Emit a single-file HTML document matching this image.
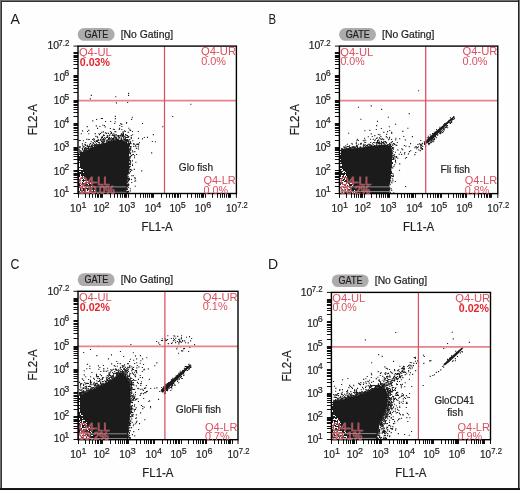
<!DOCTYPE html><html><head><meta charset="utf-8"><style>html,body{margin:0;padding:0;background:#fff;width:520px;height:490px;overflow:hidden}svg{display:block;will-change:transform}text{font-family:"Liberation Sans",sans-serif}text.k{stroke:#1e1e1e;stroke-width:0.2px}</style></head><body>
<svg width="520" height="490" viewBox="0 0 520 490">
<rect x="0" y="0" width="520" height="490" fill="#fefefe"/>
<path d="M78.0 153.4L82.9 152.3L87.5 149.4L93.3 147.1L99.1 144.8L104.8 143.0L110.6 141.0L116.4 140.0L122.1 140.0L126.7 142.5L129.0 146.0L129.1 157.1L128.6 168.6L126.9 180.0L126.3 188.0L126.3 193.5L78.0 193.5Z" fill="#1b1b1b"/>
<path d="M79 54h1v1h-1zM79 58h1v1h-1zM79 62h1v1h-1zM79 64h1v1h-1zM79 66h1v1h-1zM79 73h1v1h-1zM79 81h1v1h-1zM79 82h1v1h-1zM79 84h1v1h-1zM79 85h1v1h-1zM79 87h1v1h-1zM79 95h1v1h-1zM79 96h1v1h-1zM79 99h1v1h-1zM79 103h1v1h-1zM79 105h1v1h-1zM79 107h1v1h-1zM79 109h1v1h-1zM79 110h1v1h-1zM79 116h1v1h-1zM79 122h1v1h-1zM79 123h1v1h-1zM79 125h1v1h-1zM79 129h1v1h-1zM79 132h1v1h-1zM79 133h1v1h-1zM79 136h1v1h-1zM79 138h1v1h-1zM79 140h1v1h-1zM79 141h1v1h-1zM79 150h1v1h-1zM79 151h1v1h-1zM79 153h1v1h-1zM79 155h1v1h-1zM79 161h1v1h-1zM79 163h1v1h-1zM79 164h1v1h-1zM79 165h1v1h-1zM79 166h1v1h-1zM79 168h2v1h-2zM79 169h4v1h-4zM79 171h2v1h-2zM83 172h1v1h-1zM80 174h1v1h-1zM80 175h1v1h-1zM80 176h2v1h-2zM83 176h1v1h-1zM79 177h2v1h-2zM83 177h1v1h-1zM79 178h1v1h-1zM83 178h1v1h-1zM80 179h3v1h-3zM84 179h1v1h-1zM81 180h1v1h-1zM86 180h1v1h-1zM80 181h3v1h-3zM84 181h2v1h-2zM87 181h1v1h-1zM79 182h3v1h-3zM83 182h2v1h-2zM88 182h2v1h-2zM80 183h2v1h-2zM87 183h1v1h-1zM90 183h1v1h-1zM80 184h1v1h-1zM88 184h1v1h-1zM81 185h1v1h-1zM83 185h1v1h-1zM80 186h1v1h-1zM83 186h2v1h-2zM87 186h2v1h-2zM91 186h1v1h-1zM81 187h1v1h-1zM83 187h2v1h-2zM87 187h1v1h-1zM79 188h1v1h-1zM81 188h1v1h-1zM79 189h1v1h-1zM81 189h2v1h-2zM86 189h1v1h-1zM91 189h1v1h-1zM79 190h1v1h-1zM86 190h1v1h-1zM88 190h2v1h-2zM91 190h2v1h-2zM94 190h1v1h-1zM80 191h1v1h-1zM83 191h1v1h-1zM86 191h3v1h-3zM81 192h1v1h-1zM88 192h1v1h-1zM90 192h1v1h-1zM95 192h1v1h-1z" fill="#f4f4f4" shape-rendering="crispEdges"/>
<path d="M79.0 186.9H126.3M79.0 192.3H126.3" stroke="#9a9a9a" stroke-width="0.9"/>
<path d="M78.7 140.0h1.1v1.1h-1.1zM79.0 146.3h1.1v1.1h-1.1zM79.3 147.2h1.1v1.1h-1.1zM78.9 149.3h1.1v1.1h-1.1zM79.3 151.0h1.1v1.1h-1.1zM79.1 152.3h1.1v1.1h-1.1zM79.7 140.0h1.1v1.1h-1.1zM79.7 146.3h1.1v1.1h-1.1zM79.8 150.3h1.1v1.1h-1.1zM79.8 151.9h1.1v1.1h-1.1zM80.8 133.2h1.1v1.1h-1.1zM80.8 150.7h1.1v1.1h-1.1zM80.9 152.0h1.1v1.1h-1.1zM82.0 130.3h1.1v1.1h-1.1zM81.9 143.3h1.1v1.1h-1.1zM82.1 145.2h1.1v1.1h-1.1zM81.8 147.8h1.1v1.1h-1.1zM82.0 149.0h1.1v1.1h-1.1zM82.0 152.2h1.1v1.1h-1.1zM82.9 140.2h1.1v1.1h-1.1zM82.8 146.3h1.1v1.1h-1.1zM82.7 149.9h1.1v1.1h-1.1zM82.8 150.8h1.1v1.1h-1.1zM84.2 143.7h1.1v1.1h-1.1zM83.7 145.7h1.1v1.1h-1.1zM83.7 147.7h1.1v1.1h-1.1zM83.9 148.8h1.1v1.1h-1.1zM84.0 150.0h1.1v1.1h-1.1zM84.1 151.3h1.1v1.1h-1.1zM85.2 141.9h1.1v1.1h-1.1zM84.8 143.9h1.1v1.1h-1.1zM85.1 145.0h1.1v1.1h-1.1zM84.9 146.9h1.1v1.1h-1.1zM84.7 148.1h1.1v1.1h-1.1zM85.2 149.3h1.1v1.1h-1.1zM85.1 149.8h1.1v1.1h-1.1zM86.3 138.8h1.1v1.1h-1.1zM86.3 147.2h1.1v1.1h-1.1zM86.0 148.3h1.1v1.1h-1.1zM85.9 149.0h1.1v1.1h-1.1zM86.7 126.1h1.1v1.1h-1.1zM87.0 131.0h1.1v1.1h-1.1zM86.8 144.8h1.1v1.1h-1.1zM86.8 145.8h1.1v1.1h-1.1zM86.7 148.0h1.1v1.1h-1.1zM88.3 129.8h1.1v1.1h-1.1zM88.3 133.2h1.1v1.1h-1.1zM88.2 139.0h1.1v1.1h-1.1zM87.9 145.9h1.1v1.1h-1.1zM88.0 147.1h1.1v1.1h-1.1zM87.7 148.0h1.1v1.1h-1.1zM88.7 139.0h1.1v1.1h-1.1zM89.2 143.8h1.1v1.1h-1.1zM88.8 145.2h1.1v1.1h-1.1zM88.8 146.0h1.1v1.1h-1.1zM88.8 148.2h1.1v1.1h-1.1zM89.8 98.3h1.1v1.1h-1.1zM90.0 142.9h1.1v1.1h-1.1zM89.7 146.3h1.1v1.1h-1.1zM89.8 146.7h1.1v1.1h-1.1zM90.2 147.9h1.1v1.1h-1.1zM90.8 94.8h1.1v1.1h-1.1zM90.7 141.2h1.1v1.1h-1.1zM90.9 145.0h1.1v1.1h-1.1zM90.8 145.9h1.1v1.1h-1.1zM90.9 146.7h1.1v1.1h-1.1zM92.2 120.3h1.1v1.1h-1.1zM92.0 138.9h1.1v1.1h-1.1zM92.3 142.3h1.1v1.1h-1.1zM91.7 144.0h1.1v1.1h-1.1zM91.9 145.3h1.1v1.1h-1.1zM92.0 146.1h1.1v1.1h-1.1zM92.2 147.1h1.1v1.1h-1.1zM93.3 138.0h1.1v1.1h-1.1zM93.1 139.7h1.1v1.1h-1.1zM92.9 142.3h1.1v1.1h-1.1zM93.2 143.0h1.1v1.1h-1.1zM92.9 144.7h1.1v1.1h-1.1zM93.7 139.1h1.1v1.1h-1.1zM94.0 140.9h1.1v1.1h-1.1zM94.1 143.9h1.1v1.1h-1.1zM93.9 145.1h1.1v1.1h-1.1zM94.1 146.1h1.1v1.1h-1.1zM94.7 133.1h1.1v1.1h-1.1zM95.3 135.8h1.1v1.1h-1.1zM95.0 141.7h1.1v1.1h-1.1zM94.7 144.3h1.1v1.1h-1.1zM94.9 145.0h1.1v1.1h-1.1zM96.0 119.0h1.1v1.1h-1.1zM95.8 125.3h1.1v1.1h-1.1zM95.8 140.1h1.1v1.1h-1.1zM96.0 140.9h1.1v1.1h-1.1zM95.9 143.3h1.1v1.1h-1.1zM95.7 144.0h1.1v1.1h-1.1zM95.7 144.8h1.1v1.1h-1.1zM97.0 127.8h1.1v1.1h-1.1zM96.8 136.2h1.1v1.1h-1.1zM97.1 137.1h1.1v1.1h-1.1zM97.1 139.9h1.1v1.1h-1.1zM97.0 141.0h1.1v1.1h-1.1zM97.2 144.1h1.1v1.1h-1.1zM96.8 145.2h1.1v1.1h-1.1zM98.3 133.2h1.1v1.1h-1.1zM97.7 138.9h1.1v1.1h-1.1zM98.3 140.0h1.1v1.1h-1.1zM97.7 141.9h1.1v1.1h-1.1zM98.1 143.8h1.1v1.1h-1.1zM99.3 125.9h1.1v1.1h-1.1zM99.0 134.1h1.1v1.1h-1.1zM98.7 142.0h1.1v1.1h-1.1zM99.1 142.7h1.1v1.1h-1.1zM98.9 144.2h1.1v1.1h-1.1zM100.0 133.0h1.1v1.1h-1.1zM99.9 138.9h1.1v1.1h-1.1zM100.3 139.8h1.1v1.1h-1.1zM100.0 144.0h1.1v1.1h-1.1zM100.8 117.9h1.1v1.1h-1.1zM101.3 131.8h1.1v1.1h-1.1zM101.0 137.0h1.1v1.1h-1.1zM100.8 138.3h1.1v1.1h-1.1zM100.9 141.0h1.1v1.1h-1.1zM101.2 142.8h1.1v1.1h-1.1zM101.9 117.9h1.1v1.1h-1.1zM102.3 124.7h1.1v1.1h-1.1zM101.7 136.1h1.1v1.1h-1.1zM101.9 137.1h1.1v1.1h-1.1zM102.1 138.9h1.1v1.1h-1.1zM101.7 140.3h1.1v1.1h-1.1zM101.7 141.3h1.1v1.1h-1.1zM101.9 142.3h1.1v1.1h-1.1zM102.3 142.7h1.1v1.1h-1.1zM102.9 131.3h1.1v1.1h-1.1zM103.1 134.3h1.1v1.1h-1.1zM102.8 135.2h1.1v1.1h-1.1zM103.1 137.9h1.1v1.1h-1.1zM103.0 138.8h1.1v1.1h-1.1zM103.3 139.7h1.1v1.1h-1.1zM103.2 140.8h1.1v1.1h-1.1zM102.8 141.8h1.1v1.1h-1.1zM103.3 142.8h1.1v1.1h-1.1zM103.9 125.0h1.1v1.1h-1.1zM103.8 135.0h1.1v1.1h-1.1zM104.2 136.9h1.1v1.1h-1.1zM104.3 138.9h1.1v1.1h-1.1zM103.7 139.9h1.1v1.1h-1.1zM104.0 141.1h1.1v1.1h-1.1zM105.0 120.9h1.1v1.1h-1.1zM104.7 126.3h1.1v1.1h-1.1zM104.9 132.3h1.1v1.1h-1.1zM104.7 137.9h1.1v1.1h-1.1zM106.0 132.8h1.1v1.1h-1.1zM106.1 136.8h1.1v1.1h-1.1zM105.8 139.8h1.1v1.1h-1.1zM106.2 140.9h1.1v1.1h-1.1zM105.9 142.3h1.1v1.1h-1.1zM106.8 135.1h1.1v1.1h-1.1zM107.2 136.2h1.1v1.1h-1.1zM107.3 136.8h1.1v1.1h-1.1zM107.3 139.3h1.1v1.1h-1.1zM107.1 140.0h1.1v1.1h-1.1zM107.2 141.3h1.1v1.1h-1.1zM107.9 132.8h1.1v1.1h-1.1zM108.0 138.0h1.1v1.1h-1.1zM107.9 138.8h1.1v1.1h-1.1zM108.2 141.0h1.1v1.1h-1.1zM109.3 134.3h1.1v1.1h-1.1zM108.7 134.9h1.1v1.1h-1.1zM108.9 136.7h1.1v1.1h-1.1zM109.1 137.8h1.1v1.1h-1.1zM109.0 138.7h1.1v1.1h-1.1zM108.7 140.1h1.1v1.1h-1.1zM109.0 141.0h1.1v1.1h-1.1zM110.1 121.0h1.1v1.1h-1.1zM109.8 127.9h1.1v1.1h-1.1zM110.1 130.9h1.1v1.1h-1.1zM110.2 132.7h1.1v1.1h-1.1zM109.9 138.3h1.1v1.1h-1.1zM110.3 139.7h1.1v1.1h-1.1zM111.0 131.9h1.1v1.1h-1.1zM110.8 133.0h1.1v1.1h-1.1zM110.9 137.3h1.1v1.1h-1.1zM110.9 139.2h1.1v1.1h-1.1zM110.9 140.0h1.1v1.1h-1.1zM112.2 133.8h1.1v1.1h-1.1zM111.7 135.0h1.1v1.1h-1.1zM111.8 138.1h1.1v1.1h-1.1zM112.0 138.8h1.1v1.1h-1.1zM112.2 140.3h1.1v1.1h-1.1zM112.8 128.7h1.1v1.1h-1.1zM113.3 133.2h1.1v1.1h-1.1zM112.9 135.0h1.1v1.1h-1.1zM113.0 137.3h1.1v1.1h-1.1zM112.9 138.3h1.1v1.1h-1.1zM113.0 139.0h1.1v1.1h-1.1zM112.9 140.1h1.1v1.1h-1.1zM114.1 122.9h1.1v1.1h-1.1zM113.9 129.0h1.1v1.1h-1.1zM114.3 131.2h1.1v1.1h-1.1zM114.3 134.2h1.1v1.1h-1.1zM113.9 135.3h1.1v1.1h-1.1zM113.8 135.8h1.1v1.1h-1.1zM113.9 137.3h1.1v1.1h-1.1zM114.3 138.7h1.1v1.1h-1.1zM113.9 140.1h1.1v1.1h-1.1zM115.2 96.2h1.1v1.1h-1.1zM114.8 115.8h1.1v1.1h-1.1zM114.8 118.1h1.1v1.1h-1.1zM114.7 121.2h1.1v1.1h-1.1zM115.2 131.1h1.1v1.1h-1.1zM115.3 134.7h1.1v1.1h-1.1zM114.7 136.3h1.1v1.1h-1.1zM114.8 136.9h1.1v1.1h-1.1zM115.3 138.1h1.1v1.1h-1.1zM115.2 139.0h1.1v1.1h-1.1zM115.9 102.3h1.1v1.1h-1.1zM115.9 134.2h1.1v1.1h-1.1zM116.1 136.8h1.1v1.1h-1.1zM116.1 138.1h1.1v1.1h-1.1zM116.2 139.1h1.1v1.1h-1.1zM116.8 135.3h1.1v1.1h-1.1zM117.1 138.8h1.1v1.1h-1.1zM118.0 135.1h1.1v1.1h-1.1zM118.0 135.8h1.1v1.1h-1.1zM118.3 136.9h1.1v1.1h-1.1zM118.3 138.3h1.1v1.1h-1.1zM117.7 138.9h1.1v1.1h-1.1zM119.2 125.0h1.1v1.1h-1.1zM119.1 127.7h1.1v1.1h-1.1zM118.7 128.8h1.1v1.1h-1.1zM118.7 135.3h1.1v1.1h-1.1zM119.0 137.1h1.1v1.1h-1.1zM120.2 123.1h1.1v1.1h-1.1zM119.9 134.7h1.1v1.1h-1.1zM120.2 135.7h1.1v1.1h-1.1zM120.3 138.7h1.1v1.1h-1.1zM121.2 123.8h1.1v1.1h-1.1zM121.3 125.9h1.1v1.1h-1.1zM121.3 128.9h1.1v1.1h-1.1zM121.2 133.1h1.1v1.1h-1.1zM120.9 133.9h1.1v1.1h-1.1zM121.3 135.1h1.1v1.1h-1.1zM120.8 137.2h1.1v1.1h-1.1zM120.9 138.3h1.1v1.1h-1.1zM121.2 139.2h1.1v1.1h-1.1zM122.2 131.7h1.1v1.1h-1.1zM122.0 134.2h1.1v1.1h-1.1zM121.9 135.1h1.1v1.1h-1.1zM121.8 135.8h1.1v1.1h-1.1zM121.9 139.7h1.1v1.1h-1.1zM122.7 131.2h1.1v1.1h-1.1zM122.9 132.8h1.1v1.1h-1.1zM122.9 133.7h1.1v1.1h-1.1zM122.9 134.8h1.1v1.1h-1.1zM123.2 136.1h1.1v1.1h-1.1zM122.8 137.3h1.1v1.1h-1.1zM123.0 138.7h1.1v1.1h-1.1zM123.2 140.2h1.1v1.1h-1.1zM124.0 130.3h1.1v1.1h-1.1zM124.1 135.7h1.1v1.1h-1.1zM124.3 137.7h1.1v1.1h-1.1zM124.0 139.0h1.1v1.1h-1.1zM124.2 140.2h1.1v1.1h-1.1zM124.2 140.9h1.1v1.1h-1.1zM124.8 131.0h1.1v1.1h-1.1zM125.0 134.1h1.1v1.1h-1.1zM124.7 135.7h1.1v1.1h-1.1zM124.8 137.0h1.1v1.1h-1.1zM124.9 138.2h1.1v1.1h-1.1zM124.9 139.1h1.1v1.1h-1.1zM125.2 139.9h1.1v1.1h-1.1zM124.7 140.7h1.1v1.1h-1.1zM126.1 121.9h1.1v1.1h-1.1zM125.9 122.7h1.1v1.1h-1.1zM125.9 134.7h1.1v1.1h-1.1zM126.0 136.9h1.1v1.1h-1.1zM126.1 139.1h1.1v1.1h-1.1zM126.2 139.7h1.1v1.1h-1.1zM126.0 140.7h1.1v1.1h-1.1zM125.9 141.8h1.1v1.1h-1.1zM125.9 180.8h1.1v1.1h-1.1zM126.3 181.9h1.1v1.1h-1.1zM125.9 183.2h1.1v1.1h-1.1zM125.9 184.1h1.1v1.1h-1.1zM126.0 185.3h1.1v1.1h-1.1zM126.3 186.3h1.1v1.1h-1.1zM125.7 187.2h1.1v1.1h-1.1zM125.7 187.9h1.1v1.1h-1.1zM125.7 188.9h1.1v1.1h-1.1zM126.1 190.8h1.1v1.1h-1.1zM126.3 191.8h1.1v1.1h-1.1zM127.1 101.9h1.1v1.1h-1.1zM127.0 135.0h1.1v1.1h-1.1zM127.2 136.3h1.1v1.1h-1.1zM127.2 136.8h1.1v1.1h-1.1zM127.1 139.0h1.1v1.1h-1.1zM127.1 139.9h1.1v1.1h-1.1zM127.2 140.8h1.1v1.1h-1.1zM127.1 143.3h1.1v1.1h-1.1zM126.9 144.1h1.1v1.1h-1.1zM126.8 172.9h1.1v1.1h-1.1zM126.8 174.1h1.1v1.1h-1.1zM127.2 176.3h1.1v1.1h-1.1zM126.7 177.3h1.1v1.1h-1.1zM127.3 177.9h1.1v1.1h-1.1zM126.7 178.8h1.1v1.1h-1.1zM127.2 179.8h1.1v1.1h-1.1zM126.9 181.2h1.1v1.1h-1.1zM126.8 182.2h1.1v1.1h-1.1zM127.1 184.1h1.1v1.1h-1.1zM127.1 184.8h1.1v1.1h-1.1zM126.8 186.0h1.1v1.1h-1.1zM126.8 188.2h1.1v1.1h-1.1zM126.9 188.9h1.1v1.1h-1.1zM126.9 190.9h1.1v1.1h-1.1zM126.8 191.8h1.1v1.1h-1.1zM128.1 92.8h1.1v1.1h-1.1zM128.0 94.8h1.1v1.1h-1.1zM128.2 127.7h1.1v1.1h-1.1zM127.7 131.8h1.1v1.1h-1.1zM128.2 135.9h1.1v1.1h-1.1zM128.0 136.7h1.1v1.1h-1.1zM128.2 139.7h1.1v1.1h-1.1zM127.8 141.0h1.1v1.1h-1.1zM127.8 142.1h1.1v1.1h-1.1zM128.1 143.0h1.1v1.1h-1.1zM127.8 144.1h1.1v1.1h-1.1zM128.1 145.3h1.1v1.1h-1.1zM127.7 158.8h1.1v1.1h-1.1zM127.9 160.1h1.1v1.1h-1.1zM128.0 161.3h1.1v1.1h-1.1zM127.9 161.9h1.1v1.1h-1.1zM128.1 162.7h1.1v1.1h-1.1zM127.9 164.0h1.1v1.1h-1.1zM128.0 165.1h1.1v1.1h-1.1zM128.0 166.0h1.1v1.1h-1.1zM128.0 166.9h1.1v1.1h-1.1zM128.1 167.8h1.1v1.1h-1.1zM127.8 168.8h1.1v1.1h-1.1zM128.3 169.8h1.1v1.1h-1.1zM127.9 170.9h1.1v1.1h-1.1zM128.0 171.8h1.1v1.1h-1.1zM128.0 173.3h1.1v1.1h-1.1zM127.7 175.8h1.1v1.1h-1.1zM128.0 177.8h1.1v1.1h-1.1zM128.1 178.8h1.1v1.1h-1.1zM128.2 179.8h1.1v1.1h-1.1zM127.7 180.7h1.1v1.1h-1.1zM127.7 182.7h1.1v1.1h-1.1zM128.2 184.1h1.1v1.1h-1.1zM128.1 185.1h1.1v1.1h-1.1zM127.8 187.0h1.1v1.1h-1.1zM128.0 190.8h1.1v1.1h-1.1zM128.2 192.3h1.1v1.1h-1.1zM129.3 129.3h1.1v1.1h-1.1zM129.3 139.1h1.1v1.1h-1.1zM129.3 141.2h1.1v1.1h-1.1zM129.2 143.1h1.1v1.1h-1.1zM128.9 143.7h1.1v1.1h-1.1zM128.9 144.8h1.1v1.1h-1.1zM128.9 145.7h1.1v1.1h-1.1zM129.2 147.7h1.1v1.1h-1.1zM128.9 149.0h1.1v1.1h-1.1zM129.3 149.8h1.1v1.1h-1.1zM128.9 151.1h1.1v1.1h-1.1zM128.7 151.9h1.1v1.1h-1.1zM129.3 152.8h1.1v1.1h-1.1zM129.1 156.3h1.1v1.1h-1.1zM129.1 156.9h1.1v1.1h-1.1zM129.2 158.1h1.1v1.1h-1.1zM128.8 159.3h1.1v1.1h-1.1zM128.7 160.2h1.1v1.1h-1.1zM128.9 162.8h1.1v1.1h-1.1zM128.7 163.8h1.1v1.1h-1.1zM128.9 166.0h1.1v1.1h-1.1zM129.0 167.1h1.1v1.1h-1.1zM129.3 168.8h1.1v1.1h-1.1zM129.3 171.7h1.1v1.1h-1.1zM128.7 172.9h1.1v1.1h-1.1zM128.8 177.8h1.1v1.1h-1.1zM128.9 178.8h1.1v1.1h-1.1zM130.0 129.8h1.1v1.1h-1.1zM130.0 141.3h1.1v1.1h-1.1zM129.9 142.1h1.1v1.1h-1.1zM129.9 143.0h1.1v1.1h-1.1zM130.0 146.0h1.1v1.1h-1.1zM130.0 147.2h1.1v1.1h-1.1zM130.1 147.8h1.1v1.1h-1.1zM130.2 149.0h1.1v1.1h-1.1zM129.8 150.2h1.1v1.1h-1.1zM130.1 152.3h1.1v1.1h-1.1zM129.9 153.3h1.1v1.1h-1.1zM129.9 155.8h1.1v1.1h-1.1zM129.7 157.2h1.1v1.1h-1.1zM129.8 160.0h1.1v1.1h-1.1zM129.8 160.8h1.1v1.1h-1.1zM130.1 161.7h1.1v1.1h-1.1zM129.7 162.8h1.1v1.1h-1.1zM129.8 163.9h1.1v1.1h-1.1zM129.9 165.7h1.1v1.1h-1.1zM130.3 169.0h1.1v1.1h-1.1zM129.9 170.8h1.1v1.1h-1.1zM129.7 188.2h1.1v1.1h-1.1zM129.8 190.3h1.1v1.1h-1.1zM131.1 118.8h1.1v1.1h-1.1zM130.7 135.1h1.1v1.1h-1.1zM130.8 137.0h1.1v1.1h-1.1zM130.7 138.0h1.1v1.1h-1.1zM130.7 143.2h1.1v1.1h-1.1zM130.7 146.2h1.1v1.1h-1.1zM131.0 155.1h1.1v1.1h-1.1zM131.2 169.8h1.1v1.1h-1.1zM131.2 175.2h1.1v1.1h-1.1zM130.9 179.0h1.1v1.1h-1.1zM131.2 182.0h1.1v1.1h-1.1zM131.8 116.7h1.1v1.1h-1.1zM131.9 131.0h1.1v1.1h-1.1zM132.1 134.2h1.1v1.1h-1.1zM132.2 140.2h1.1v1.1h-1.1zM131.8 150.2h1.1v1.1h-1.1zM132.3 151.3h1.1v1.1h-1.1zM132.0 154.2h1.1v1.1h-1.1zM131.9 160.3h1.1v1.1h-1.1zM132.0 163.7h1.1v1.1h-1.1zM132.0 165.0h1.1v1.1h-1.1zM133.2 142.9h1.1v1.1h-1.1zM133.1 143.7h1.1v1.1h-1.1zM133.2 145.8h1.1v1.1h-1.1zM132.9 153.9h1.1v1.1h-1.1zM132.7 175.1h1.1v1.1h-1.1zM133.8 143.7h1.1v1.1h-1.1zM134.3 151.1h1.1v1.1h-1.1zM134.0 155.3h1.1v1.1h-1.1zM134.0 157.2h1.1v1.1h-1.1zM133.8 168.8h1.1v1.1h-1.1zM134.3 177.1h1.1v1.1h-1.1zM134.2 180.7h1.1v1.1h-1.1zM135.0 144.7h1.1v1.1h-1.1zM135.3 146.0h1.1v1.1h-1.1zM135.3 161.7h1.1v1.1h-1.1zM134.7 178.1h1.1v1.1h-1.1zM135.1 180.2h1.1v1.1h-1.1zM134.7 185.7h1.1v1.1h-1.1zM136.0 143.7h1.1v1.1h-1.1zM135.8 147.8h1.1v1.1h-1.1zM136.0 153.9h1.1v1.1h-1.1zM137.0 143.8h1.1v1.1h-1.1zM137.7 131.0h1.1v1.1h-1.1zM137.9 137.8h1.1v1.1h-1.1zM137.7 143.3h1.1v1.1h-1.1zM138.1 144.3h1.1v1.1h-1.1zM137.8 146.3h1.1v1.1h-1.1zM137.7 148.3h1.1v1.1h-1.1zM139.0 142.2h1.1v1.1h-1.1zM141.2 170.3h1.1v1.1h-1.1zM142.0 123.0h1.1v1.1h-1.1zM141.9 138.3h1.1v1.1h-1.1zM143.8 136.9h1.1v1.1h-1.1zM146.9 136.8h1.1v1.1h-1.1zM151.1 152.3h1.1v1.1h-1.1zM151.8 141.0h1.1v1.1h-1.1zM152.8 134.1h1.1v1.1h-1.1zM154.8 141.2h1.1v1.1h-1.1zM162.2 126.2h1.1v1.1h-1.1zM172.2 115.9h1.1v1.1h-1.1zM190.3 103.7h1.1v1.1h-1.1z" fill="#1b1b1b"/>
<path d="M78.00 100.60H236.40" stroke="#e3848e" stroke-width="1.7" fill="none"/>
<path d="M164.50 46.10V193.50" stroke="#d9505f" stroke-width="1.25" fill="none"/>
<path d="M73.50 193.50H78.00M78.50 193.50V197.80M73.50 186.50H78.00M85.50 193.50V197.80M73.50 182.50H78.00M89.50 193.50V197.80M73.50 179.50H78.00M92.50 193.50V197.80M73.50 177.50H78.00M95.50 193.50V197.80M73.50 175.50H78.00M97.50 193.50V197.80M73.50 174.50H78.00M98.50 193.50V197.80M73.50 173.50H78.00M100.50 193.50V197.80M73.50 171.50H78.00M101.50 193.50V197.80M73.50 170.50H78.00M102.50 193.50V197.80M73.50 163.50H78.00M110.50 193.50V197.80M73.50 159.50H78.00M114.50 193.50V197.80M73.50 156.50H78.00M117.50 193.50V197.80M73.50 154.50H78.00M120.50 193.50V197.80M73.50 152.50H78.00M122.50 193.50V197.80M73.50 150.50H78.00M124.50 193.50V197.80M73.50 149.50H78.00M125.50 193.50V197.80M73.50 148.50H78.00M126.50 193.50V197.80M73.50 147.50H78.00M128.50 193.50V197.80M73.50 139.50H78.00M135.50 193.50V197.80M73.50 135.50H78.00M140.50 193.50V197.80M73.50 132.50H78.00M143.50 193.50V197.80M73.50 130.50H78.00M145.50 193.50V197.80M73.50 128.50H78.00M147.50 193.50V197.80M73.50 127.50H78.00M149.50 193.50V197.80M73.50 125.50H78.00M151.50 193.50V197.80M73.50 124.50H78.00M152.50 193.50V197.80M73.50 123.50H78.00M153.50 193.50V197.80M73.50 116.50H78.00M161.50 193.50V197.80M73.50 112.50H78.00M166.50 193.50V197.80M73.50 109.50H78.00M169.50 193.50V197.80M73.50 107.50H78.00M172.50 193.50V197.80M73.50 105.50H78.00M174.50 193.50V197.80M73.50 104.50H78.00M175.50 193.50V197.80M73.50 102.50H78.00M177.50 193.50V197.80M73.50 101.50H78.00M178.50 193.50V197.80M73.50 100.50H78.00M180.50 193.50V197.80M73.50 92.50H78.00M187.50 193.50V197.80M73.50 88.50H78.00M191.50 193.50V197.80M73.50 85.50H78.00M195.50 193.50V197.80M73.50 82.50H78.00M197.50 193.50V197.80M73.50 80.50H78.00M199.50 193.50V197.80M73.50 79.50H78.00M201.50 193.50V197.80M73.50 77.50H78.00M202.50 193.50V197.80M73.50 76.50H78.00M203.50 193.50V197.80M73.50 75.50H78.00M205.50 193.50V197.80M73.50 68.50H78.00M212.50 193.50V197.80M73.50 64.50H78.00M217.50 193.50V197.80M73.50 61.50H78.00M220.50 193.50V197.80M73.50 59.50H78.00M222.50 193.50V197.80M73.50 57.50H78.00M224.50 193.50V197.80M73.50 56.50H78.00M226.50 193.50V197.80M73.50 55.50H78.00M228.50 193.50V197.80M73.50 53.50H78.00M229.50 193.50V197.80M73.50 52.50H78.00M230.50 193.50V197.80M73.50 46.10H78.00M236.40 193.50V197.80" stroke="#111" stroke-width="1" fill="none"/>
<rect x="78.00" y="46.10" width="158.40" height="147.40" fill="none" stroke="#000" stroke-width="1.4"/>
<text x="10.40" y="23.80" font-size="15.4" fill="#1a1a1b" textLength="9.40" lengthAdjust="spacingAndGlyphs">A</text>
<rect x="77.70" y="28.10" width="36.9" height="12.7" rx="6.35" fill="#adabab"/>
<text x="84.40" y="38.10" font-size="10.4" fill="#1e1e1e" textLength="24.00" lengthAdjust="spacingAndGlyphs" class="k">GATE</text>
<text x="120.65" y="37.90" font-size="10.2" fill="#1e1e1e" textLength="52.40" lengthAdjust="spacingAndGlyphs" class="k">[No Gating]</text>
<text x="65.00" y="196.90" font-size="10.6" fill="#1e1e1e" text-anchor="end" textLength="11.20" lengthAdjust="spacingAndGlyphs" class="k">10</text>
<text x="64.30" y="192.40" font-size="9.8" fill="#1e1e1e" textLength="5.00" lengthAdjust="spacingAndGlyphs" class="k">1</text>
<text x="65.00" y="174.90" font-size="10.6" fill="#1e1e1e" text-anchor="end" textLength="11.20" lengthAdjust="spacingAndGlyphs" class="k">10</text>
<text x="64.30" y="170.40" font-size="9.8" fill="#1e1e1e" textLength="5.00" lengthAdjust="spacingAndGlyphs" class="k">2</text>
<text x="65.00" y="151.00" font-size="10.6" fill="#1e1e1e" text-anchor="end" textLength="11.20" lengthAdjust="spacingAndGlyphs" class="k">10</text>
<text x="64.30" y="146.50" font-size="9.8" fill="#1e1e1e" textLength="5.00" lengthAdjust="spacingAndGlyphs" class="k">3</text>
<text x="65.00" y="127.50" font-size="10.6" fill="#1e1e1e" text-anchor="end" textLength="11.20" lengthAdjust="spacingAndGlyphs" class="k">10</text>
<text x="64.30" y="123.00" font-size="9.8" fill="#1e1e1e" textLength="5.00" lengthAdjust="spacingAndGlyphs" class="k">4</text>
<text x="65.00" y="104.30" font-size="10.6" fill="#1e1e1e" text-anchor="end" textLength="11.20" lengthAdjust="spacingAndGlyphs" class="k">10</text>
<text x="64.30" y="99.80" font-size="9.8" fill="#1e1e1e" textLength="5.00" lengthAdjust="spacingAndGlyphs" class="k">5</text>
<text x="65.00" y="80.50" font-size="10.6" fill="#1e1e1e" text-anchor="end" textLength="11.20" lengthAdjust="spacingAndGlyphs" class="k">10</text>
<text x="64.30" y="76.00" font-size="9.8" fill="#1e1e1e" textLength="5.00" lengthAdjust="spacingAndGlyphs" class="k">6</text>
<text x="59.00" y="49.40" font-size="10.6" fill="#1e1e1e" text-anchor="end" textLength="11.60" lengthAdjust="spacingAndGlyphs" class="k">10</text>
<text x="58.30" y="45.70" font-size="9.8" fill="#1e1e1e" textLength="11.00" lengthAdjust="spacingAndGlyphs" class="k">7.2</text>
<text x="81.50" y="211.80" font-size="10.6" fill="#1e1e1e" text-anchor="end" textLength="11.40" lengthAdjust="spacingAndGlyphs" class="k">10</text>
<text x="81.50" y="207.90" font-size="9.8" fill="#1e1e1e" textLength="5.00" lengthAdjust="spacingAndGlyphs" class="k">1</text>
<text x="104.60" y="211.80" font-size="10.6" fill="#1e1e1e" text-anchor="end" textLength="11.40" lengthAdjust="spacingAndGlyphs" class="k">10</text>
<text x="104.60" y="207.90" font-size="9.8" fill="#1e1e1e" textLength="5.00" lengthAdjust="spacingAndGlyphs" class="k">2</text>
<text x="130.20" y="211.80" font-size="10.6" fill="#1e1e1e" text-anchor="end" textLength="11.40" lengthAdjust="spacingAndGlyphs" class="k">10</text>
<text x="130.20" y="207.90" font-size="9.8" fill="#1e1e1e" textLength="5.00" lengthAdjust="spacingAndGlyphs" class="k">3</text>
<text x="156.20" y="211.80" font-size="10.6" fill="#1e1e1e" text-anchor="end" textLength="11.40" lengthAdjust="spacingAndGlyphs" class="k">10</text>
<text x="156.20" y="207.90" font-size="9.8" fill="#1e1e1e" textLength="5.00" lengthAdjust="spacingAndGlyphs" class="k">4</text>
<text x="180.80" y="211.80" font-size="10.6" fill="#1e1e1e" text-anchor="end" textLength="11.40" lengthAdjust="spacingAndGlyphs" class="k">10</text>
<text x="180.80" y="207.90" font-size="9.8" fill="#1e1e1e" textLength="5.00" lengthAdjust="spacingAndGlyphs" class="k">5</text>
<text x="206.20" y="211.80" font-size="10.6" fill="#1e1e1e" text-anchor="end" textLength="11.40" lengthAdjust="spacingAndGlyphs" class="k">10</text>
<text x="206.20" y="207.90" font-size="9.8" fill="#1e1e1e" textLength="5.00" lengthAdjust="spacingAndGlyphs" class="k">6</text>
<text x="237.10" y="211.80" font-size="10.6" fill="#1e1e1e" text-anchor="end" textLength="11.20" lengthAdjust="spacingAndGlyphs" class="k">10</text>
<text x="237.20" y="208.20" font-size="9.8" fill="#1e1e1e" textLength="10.60" lengthAdjust="spacingAndGlyphs" class="k">7.2</text>
<text x="0" y="0" font-size="13" fill="#1e1e1e" text-anchor="middle" textLength="31.2" lengthAdjust="spacingAndGlyphs" class="k" transform="translate(37.10,119.70) rotate(-90)">FL2-A</text>
<text x="157.10" y="230.80" font-size="13" fill="#1e1e1e" text-anchor="middle" textLength="31.20" lengthAdjust="spacingAndGlyphs" class="k">FL1-A</text>
<svg x="78.00" y="46.10" width="158.40" height="147.40" overflow="hidden">
<text x="0.90" y="9.40" font-size="11" fill="#d9505f" textLength="32.90" lengthAdjust="spacingAndGlyphs">Q4-UL</text>
<text x="1.80" y="20.10" font-size="10.9" fill="#e2262e" font-weight="bold" textLength="30.20" lengthAdjust="spacingAndGlyphs">0.03%</text>
<text x="158.10" y="9.30" font-size="11" fill="#d9505f" text-anchor="end" textLength="35.00" lengthAdjust="spacingAndGlyphs">Q4-UR</text>
<text x="123.20" y="19.00" font-size="10.2" fill="#d9505f" textLength="24.80" lengthAdjust="spacingAndGlyphs">0.0%</text>
<text x="125.40" y="138.30" font-size="11" fill="#d9505f" textLength="32.40" lengthAdjust="spacingAndGlyphs">Q4-LR</text>
<text x="125.40" y="147.60" font-size="10.2" fill="#d9505f" textLength="24.70" lengthAdjust="spacingAndGlyphs">0.0%</text>
<text x="0.70" y="138.60" font-size="11" fill="#e0404f" textLength="31.10" lengthAdjust="spacingAndGlyphs" stroke="#ffffff" stroke-opacity="0.3" stroke-width="1" paint-order="stroke">Q4-LL</text>
<text x="0.70" y="148.00" font-size="10.2" fill="#e0404f" textLength="36.00" lengthAdjust="spacingAndGlyphs" stroke="#ffffff" stroke-opacity="0.3" stroke-width="1" paint-order="stroke">100.0%</text>
</svg>
<text x="178.80" y="171.30" font-size="10.4" fill="#1e1e1e" textLength="34.20" lengthAdjust="spacingAndGlyphs" class="k">Glo fish</text>
<path d="M339.4 149.2L349.5 148.6L361.0 147.5L372.6 145.8L384.0 144.6L388.0 145.0L390.5 147.0L392.0 151.0L392.0 163.0L391.0 174.0L389.5 185.7L389.5 193.6L339.4 193.6Z" fill="#1b1b1b"/>
<path d="M427.09 143.55L431.62 140.12L439.60 132.08L447.44 123.91L453.94 117.06L453.46 116.54L446.21 122.59L437.55 129.90L429.03 137.34L425.31 141.65Z" fill="#1b1b1b"/>
<path d="M340 47h1v1h-1zM340 48h1v1h-1zM340 50h1v1h-1zM340 51h1v1h-1zM340 52h1v1h-1zM340 53h1v1h-1zM340 56h1v1h-1zM340 57h1v1h-1zM340 58h1v1h-1zM340 59h1v1h-1zM340 61h1v1h-1zM340 64h1v1h-1zM340 65h1v1h-1zM340 69h1v1h-1zM340 71h1v1h-1zM340 76h1v1h-1zM340 77h1v1h-1zM340 79h1v1h-1zM340 80h1v1h-1zM340 81h1v1h-1zM340 83h1v1h-1zM340 84h1v1h-1zM340 85h1v1h-1zM340 87h1v1h-1zM340 91h1v1h-1zM340 94h1v1h-1zM340 95h1v1h-1zM340 96h1v1h-1zM340 98h1v1h-1zM340 100h1v1h-1zM340 101h1v1h-1zM340 104h1v1h-1zM340 105h1v1h-1zM340 107h1v1h-1zM340 110h1v1h-1zM340 113h1v1h-1zM340 116h1v1h-1zM340 119h1v1h-1zM340 120h1v1h-1zM340 121h1v1h-1zM340 122h1v1h-1zM340 123h1v1h-1zM340 127h1v1h-1zM340 132h1v1h-1zM340 144h1v1h-1zM340 148h1v1h-1zM340 149h1v1h-1zM340 151h1v1h-1zM340 152h1v1h-1zM340 154h1v1h-1zM340 159h1v1h-1zM340 162h1v1h-1zM340 164h2v1h-2zM340 165h2v1h-2zM340 168h2v1h-2zM342 169h1v1h-1zM341 170h2v1h-2zM343 171h2v1h-2zM342 172h2v1h-2zM345 172h1v1h-1zM345 174h1v1h-1zM341 175h2v1h-2zM344 175h2v1h-2zM341 176h1v1h-1zM344 176h1v1h-1zM346 176h1v1h-1zM340 177h2v1h-2zM343 177h1v1h-1zM343 178h1v1h-1zM345 178h1v1h-1zM340 179h1v1h-1zM342 179h1v1h-1zM345 179h1v1h-1zM347 179h1v1h-1zM340 180h1v1h-1zM344 180h1v1h-1zM340 181h4v1h-4zM343 182h3v1h-3zM343 183h3v1h-3zM347 183h1v1h-1zM350 183h2v1h-2zM341 184h2v1h-2zM346 184h3v1h-3zM340 185h4v1h-4zM346 185h1v1h-1zM348 185h1v1h-1zM352 185h1v1h-1zM340 186h5v1h-5zM346 186h1v1h-1zM351 186h1v1h-1zM342 187h1v1h-1zM347 187h2v1h-2zM340 188h1v1h-1zM342 188h5v1h-5zM348 188h2v1h-2zM340 189h2v1h-2zM343 189h2v1h-2zM346 189h2v1h-2zM340 190h1v1h-1zM342 190h1v1h-1zM344 190h1v1h-1zM346 190h1v1h-1zM350 190h1v1h-1zM354 190h1v1h-1zM340 191h1v1h-1zM343 191h2v1h-2zM340 192h2v1h-2zM343 192h1v1h-1zM347 192h1v1h-1zM352 192h1v1h-1zM354 192h1v1h-1z" fill="#f4f4f4" shape-rendering="crispEdges"/>
<path d="M340.4 186.9H389.5M340.4 191.6H389.5" stroke="#9a9a9a" stroke-width="0.9"/>
<path d="M341.1 147.9h1.1v1.1h-1.1zM342.3 148.2h1.1v1.1h-1.1zM343.3 146.3h1.1v1.1h-1.1zM343.7 146.7h1.1v1.1h-1.1zM344.3 147.8h1.1v1.1h-1.1zM345.2 145.2h1.1v1.1h-1.1zM344.8 146.7h1.1v1.1h-1.1zM346.2 147.3h1.1v1.1h-1.1zM345.8 147.8h1.1v1.1h-1.1zM346.8 143.7h1.1v1.1h-1.1zM346.7 146.0h1.1v1.1h-1.1zM347.2 147.9h1.1v1.1h-1.1zM348.1 132.7h1.1v1.1h-1.1zM347.8 145.9h1.1v1.1h-1.1zM348.3 147.9h1.1v1.1h-1.1zM349.0 145.3h1.1v1.1h-1.1zM348.9 146.8h1.1v1.1h-1.1zM348.9 147.7h1.1v1.1h-1.1zM349.9 147.1h1.1v1.1h-1.1zM350.0 148.1h1.1v1.1h-1.1zM351.3 143.0h1.1v1.1h-1.1zM351.1 147.3h1.1v1.1h-1.1zM351.8 143.7h1.1v1.1h-1.1zM351.7 146.3h1.1v1.1h-1.1zM352.0 146.8h1.1v1.1h-1.1zM352.9 146.0h1.1v1.1h-1.1zM352.7 146.8h1.1v1.1h-1.1zM353.8 146.2h1.1v1.1h-1.1zM354.0 146.8h1.1v1.1h-1.1zM355.2 146.8h1.1v1.1h-1.1zM356.3 139.7h1.1v1.1h-1.1zM355.9 141.7h1.1v1.1h-1.1zM355.7 143.1h1.1v1.1h-1.1zM356.0 144.8h1.1v1.1h-1.1zM355.7 145.9h1.1v1.1h-1.1zM356.9 138.7h1.1v1.1h-1.1zM356.7 145.0h1.1v1.1h-1.1zM356.9 146.1h1.1v1.1h-1.1zM357.0 147.0h1.1v1.1h-1.1zM357.9 106.7h1.1v1.1h-1.1zM357.9 140.0h1.1v1.1h-1.1zM358.0 143.7h1.1v1.1h-1.1zM359.2 146.7h1.1v1.1h-1.1zM360.3 118.7h1.1v1.1h-1.1zM360.1 142.9h1.1v1.1h-1.1zM360.3 143.8h1.1v1.1h-1.1zM360.0 146.3h1.1v1.1h-1.1zM360.3 147.3h1.1v1.1h-1.1zM360.8 142.8h1.1v1.1h-1.1zM362.7 140.2h1.1v1.1h-1.1zM363.0 143.7h1.1v1.1h-1.1zM362.7 145.3h1.1v1.1h-1.1zM363.2 146.1h1.1v1.1h-1.1zM364.3 130.2h1.1v1.1h-1.1zM364.0 137.7h1.1v1.1h-1.1zM363.8 139.7h1.1v1.1h-1.1zM364.0 141.7h1.1v1.1h-1.1zM363.7 144.8h1.1v1.1h-1.1zM365.2 139.7h1.1v1.1h-1.1zM365.1 141.9h1.1v1.1h-1.1zM364.8 144.3h1.1v1.1h-1.1zM365.1 145.9h1.1v1.1h-1.1zM366.0 145.1h1.1v1.1h-1.1zM367.2 144.2h1.1v1.1h-1.1zM367.1 145.3h1.1v1.1h-1.1zM367.2 145.7h1.1v1.1h-1.1zM367.8 136.2h1.1v1.1h-1.1zM368.1 143.7h1.1v1.1h-1.1zM368.3 145.9h1.1v1.1h-1.1zM369.3 129.8h1.1v1.1h-1.1zM369.0 143.7h1.1v1.1h-1.1zM369.3 144.8h1.1v1.1h-1.1zM370.0 138.7h1.1v1.1h-1.1zM370.1 142.0h1.1v1.1h-1.1zM370.2 144.3h1.1v1.1h-1.1zM370.1 145.2h1.1v1.1h-1.1zM370.7 105.3h1.1v1.1h-1.1zM370.7 133.3h1.1v1.1h-1.1zM371.3 144.9h1.1v1.1h-1.1zM371.7 136.0h1.1v1.1h-1.1zM371.9 143.2h1.1v1.1h-1.1zM372.8 138.7h1.1v1.1h-1.1zM372.9 142.0h1.1v1.1h-1.1zM372.8 144.2h1.1v1.1h-1.1zM374.2 135.1h1.1v1.1h-1.1zM374.2 140.0h1.1v1.1h-1.1zM374.1 142.1h1.1v1.1h-1.1zM374.1 145.0h1.1v1.1h-1.1zM374.7 139.2h1.1v1.1h-1.1zM376.1 125.1h1.1v1.1h-1.1zM375.8 128.9h1.1v1.1h-1.1zM375.8 137.9h1.1v1.1h-1.1zM375.9 142.0h1.1v1.1h-1.1zM375.8 142.7h1.1v1.1h-1.1zM376.2 143.9h1.1v1.1h-1.1zM375.7 145.1h1.1v1.1h-1.1zM376.9 120.8h1.1v1.1h-1.1zM376.7 137.3h1.1v1.1h-1.1zM377.0 139.9h1.1v1.1h-1.1zM376.9 141.1h1.1v1.1h-1.1zM376.9 142.0h1.1v1.1h-1.1zM376.8 142.7h1.1v1.1h-1.1zM377.8 133.9h1.1v1.1h-1.1zM378.2 139.3h1.1v1.1h-1.1zM378.0 139.7h1.1v1.1h-1.1zM377.8 141.7h1.1v1.1h-1.1zM378.1 142.8h1.1v1.1h-1.1zM379.3 134.3h1.1v1.1h-1.1zM378.9 137.3h1.1v1.1h-1.1zM378.8 141.2h1.1v1.1h-1.1zM378.9 142.3h1.1v1.1h-1.1zM378.9 142.8h1.1v1.1h-1.1zM378.7 144.3h1.1v1.1h-1.1zM380.3 136.1h1.1v1.1h-1.1zM380.2 138.2h1.1v1.1h-1.1zM380.2 142.8h1.1v1.1h-1.1zM381.1 108.8h1.1v1.1h-1.1zM380.8 128.0h1.1v1.1h-1.1zM380.7 139.1h1.1v1.1h-1.1zM381.0 141.0h1.1v1.1h-1.1zM380.7 142.3h1.1v1.1h-1.1zM381.3 142.8h1.1v1.1h-1.1zM380.8 143.8h1.1v1.1h-1.1zM381.9 138.3h1.1v1.1h-1.1zM381.9 141.9h1.1v1.1h-1.1zM383.3 131.8h1.1v1.1h-1.1zM383.1 138.8h1.1v1.1h-1.1zM383.2 140.7h1.1v1.1h-1.1zM383.0 142.1h1.1v1.1h-1.1zM383.2 142.9h1.1v1.1h-1.1zM384.3 141.2h1.1v1.1h-1.1zM383.9 143.3h1.1v1.1h-1.1zM385.0 141.0h1.1v1.1h-1.1zM385.2 141.7h1.1v1.1h-1.1zM384.8 144.2h1.1v1.1h-1.1zM386.1 133.8h1.1v1.1h-1.1zM385.8 136.1h1.1v1.1h-1.1zM386.0 142.0h1.1v1.1h-1.1zM385.8 142.7h1.1v1.1h-1.1zM387.0 131.1h1.1v1.1h-1.1zM386.8 137.2h1.1v1.1h-1.1zM387.1 144.1h1.1v1.1h-1.1zM387.8 116.7h1.1v1.1h-1.1zM388.0 139.2h1.1v1.1h-1.1zM387.8 144.2h1.1v1.1h-1.1zM388.8 126.2h1.1v1.1h-1.1zM389.2 130.0h1.1v1.1h-1.1zM389.0 136.8h1.1v1.1h-1.1zM388.8 138.3h1.1v1.1h-1.1zM388.9 143.1h1.1v1.1h-1.1zM388.7 143.9h1.1v1.1h-1.1zM389.1 145.1h1.1v1.1h-1.1zM388.9 146.0h1.1v1.1h-1.1zM389.1 182.3h1.1v1.1h-1.1zM389.2 182.7h1.1v1.1h-1.1zM389.2 187.3h1.1v1.1h-1.1zM389.1 188.2h1.1v1.1h-1.1zM389.1 189.3h1.1v1.1h-1.1zM390.3 142.3h1.1v1.1h-1.1zM390.0 143.9h1.1v1.1h-1.1zM389.9 145.1h1.1v1.1h-1.1zM389.9 146.3h1.1v1.1h-1.1zM390.3 146.9h1.1v1.1h-1.1zM390.3 176.1h1.1v1.1h-1.1zM390.0 177.0h1.1v1.1h-1.1zM390.1 178.1h1.1v1.1h-1.1zM389.7 179.9h1.1v1.1h-1.1zM390.3 180.7h1.1v1.1h-1.1zM389.7 184.2h1.1v1.1h-1.1zM389.7 191.8h1.1v1.1h-1.1zM391.1 131.7h1.1v1.1h-1.1zM391.2 132.8h1.1v1.1h-1.1zM391.0 138.9h1.1v1.1h-1.1zM391.1 141.7h1.1v1.1h-1.1zM391.0 145.8h1.1v1.1h-1.1zM390.7 148.1h1.1v1.1h-1.1zM390.7 149.2h1.1v1.1h-1.1zM391.0 164.9h1.1v1.1h-1.1zM391.1 166.2h1.1v1.1h-1.1zM390.8 167.0h1.1v1.1h-1.1zM390.7 171.0h1.1v1.1h-1.1zM390.9 172.1h1.1v1.1h-1.1zM390.8 172.9h1.1v1.1h-1.1zM391.0 175.0h1.1v1.1h-1.1zM391.3 182.1h1.1v1.1h-1.1zM390.7 188.3h1.1v1.1h-1.1zM391.2 189.9h1.1v1.1h-1.1zM391.9 141.0h1.1v1.1h-1.1zM391.8 143.7h1.1v1.1h-1.1zM392.3 145.0h1.1v1.1h-1.1zM391.9 147.0h1.1v1.1h-1.1zM392.0 147.8h1.1v1.1h-1.1zM391.7 150.1h1.1v1.1h-1.1zM391.7 152.0h1.1v1.1h-1.1zM392.1 153.1h1.1v1.1h-1.1zM392.2 154.7h1.1v1.1h-1.1zM392.0 155.7h1.1v1.1h-1.1zM392.0 157.2h1.1v1.1h-1.1zM392.0 158.9h1.1v1.1h-1.1zM391.9 162.0h1.1v1.1h-1.1zM391.9 163.0h1.1v1.1h-1.1zM392.1 167.3h1.1v1.1h-1.1zM392.3 173.1h1.1v1.1h-1.1zM391.9 175.9h1.1v1.1h-1.1zM392.1 178.3h1.1v1.1h-1.1zM392.3 180.3h1.1v1.1h-1.1zM393.0 143.1h1.1v1.1h-1.1zM393.0 147.3h1.1v1.1h-1.1zM392.7 148.8h1.1v1.1h-1.1zM392.7 151.0h1.1v1.1h-1.1zM393.3 154.8h1.1v1.1h-1.1zM392.7 156.9h1.1v1.1h-1.1zM392.9 157.9h1.1v1.1h-1.1zM393.1 158.9h1.1v1.1h-1.1zM393.3 165.8h1.1v1.1h-1.1zM392.7 174.8h1.1v1.1h-1.1zM392.8 176.0h1.1v1.1h-1.1zM393.2 192.2h1.1v1.1h-1.1zM393.7 143.2h1.1v1.1h-1.1zM393.9 143.9h1.1v1.1h-1.1zM394.0 154.2h1.1v1.1h-1.1zM393.7 156.3h1.1v1.1h-1.1zM394.3 158.2h1.1v1.1h-1.1zM394.1 164.2h1.1v1.1h-1.1zM395.0 123.7h1.1v1.1h-1.1zM395.3 137.7h1.1v1.1h-1.1zM395.2 139.3h1.1v1.1h-1.1zM395.3 144.3h1.1v1.1h-1.1zM394.9 151.7h1.1v1.1h-1.1zM394.7 156.3h1.1v1.1h-1.1zM395.0 159.7h1.1v1.1h-1.1zM394.9 160.8h1.1v1.1h-1.1zM395.2 162.2h1.1v1.1h-1.1zM394.8 180.9h1.1v1.1h-1.1zM396.2 144.9h1.1v1.1h-1.1zM396.0 155.9h1.1v1.1h-1.1zM396.1 156.8h1.1v1.1h-1.1zM396.8 141.9h1.1v1.1h-1.1zM397.3 149.3h1.1v1.1h-1.1zM397.3 157.7h1.1v1.1h-1.1zM399.1 138.2h1.1v1.1h-1.1zM398.7 153.7h1.1v1.1h-1.1zM399.2 163.3h1.1v1.1h-1.1zM399.0 169.7h1.1v1.1h-1.1zM400.0 151.7h1.1v1.1h-1.1zM401.3 148.3h1.1v1.1h-1.1zM401.1 153.8h1.1v1.1h-1.1zM402.3 130.8h1.1v1.1h-1.1zM402.2 149.2h1.1v1.1h-1.1zM403.2 136.0h1.1v1.1h-1.1zM403.8 144.9h1.1v1.1h-1.1zM404.3 152.0h1.1v1.1h-1.1zM404.0 153.3h1.1v1.1h-1.1zM404.8 139.3h1.1v1.1h-1.1zM405.3 145.7h1.1v1.1h-1.1zM404.9 157.7h1.1v1.1h-1.1zM405.1 185.9h1.1v1.1h-1.1zM406.0 157.0h1.1v1.1h-1.1zM407.3 127.7h1.1v1.1h-1.1zM407.9 153.3h1.1v1.1h-1.1zM408.7 113.1h1.1v1.1h-1.1zM408.7 146.1h1.1v1.1h-1.1zM408.9 151.1h1.1v1.1h-1.1zM410.0 143.1h1.1v1.1h-1.1zM410.2 150.2h1.1v1.1h-1.1zM411.9 136.1h1.1v1.1h-1.1zM414.3 147.2h1.1v1.1h-1.1zM414.3 154.1h1.1v1.1h-1.1zM415.1 146.2h1.1v1.1h-1.1zM415.2 151.9h1.1v1.1h-1.1zM415.8 146.3h1.1v1.1h-1.1zM416.2 148.2h1.1v1.1h-1.1zM417.3 144.0h1.1v1.1h-1.1zM416.7 146.9h1.1v1.1h-1.1zM418.1 90.2h1.1v1.1h-1.1zM417.8 146.3h1.1v1.1h-1.1zM418.3 149.3h1.1v1.1h-1.1zM418.8 143.3h1.1v1.1h-1.1zM420.2 140.0h1.1v1.1h-1.1zM420.1 143.8h1.1v1.1h-1.1zM420.2 144.8h1.1v1.1h-1.1zM420.2 146.3h1.1v1.1h-1.1zM420.2 147.7h1.1v1.1h-1.1zM419.8 150.1h1.1v1.1h-1.1zM421.3 143.7h1.1v1.1h-1.1zM421.1 145.0h1.1v1.1h-1.1zM420.8 147.0h1.1v1.1h-1.1zM421.0 148.3h1.1v1.1h-1.1zM421.9 142.8h1.1v1.1h-1.1zM422.2 145.9h1.1v1.1h-1.1zM421.9 147.9h1.1v1.1h-1.1zM422.0 149.0h1.1v1.1h-1.1zM423.8 141.2h1.1v1.1h-1.1zM424.2 142.0h1.1v1.1h-1.1zM423.9 142.9h1.1v1.1h-1.1zM424.0 143.8h1.1v1.1h-1.1zM425.2 139.3h1.1v1.1h-1.1zM424.7 142.3h1.1v1.1h-1.1zM425.3 142.7h1.1v1.1h-1.1zM425.0 145.2h1.1v1.1h-1.1zM425.1 145.9h1.1v1.1h-1.1zM426.2 140.9h1.1v1.1h-1.1zM426.0 142.1h1.1v1.1h-1.1zM426.8 137.2h1.1v1.1h-1.1zM426.9 139.8h1.1v1.1h-1.1zM427.0 141.1h1.1v1.1h-1.1zM427.8 135.7h1.1v1.1h-1.1zM428.0 137.2h1.1v1.1h-1.1zM428.0 137.9h1.1v1.1h-1.1zM427.9 139.2h1.1v1.1h-1.1zM428.3 141.7h1.1v1.1h-1.1zM428.0 143.1h1.1v1.1h-1.1zM428.3 144.2h1.1v1.1h-1.1zM429.1 143.1h1.1v1.1h-1.1zM429.7 134.2h1.1v1.1h-1.1zM430.1 135.7h1.1v1.1h-1.1zM429.8 138.0h1.1v1.1h-1.1zM430.2 141.3h1.1v1.1h-1.1zM430.2 142.1h1.1v1.1h-1.1zM430.9 135.9h1.1v1.1h-1.1zM430.8 137.3h1.1v1.1h-1.1zM431.3 139.2h1.1v1.1h-1.1zM431.1 139.9h1.1v1.1h-1.1zM431.0 141.2h1.1v1.1h-1.1zM431.1 141.7h1.1v1.1h-1.1zM432.0 133.0h1.1v1.1h-1.1zM432.1 135.3h1.1v1.1h-1.1zM431.8 137.0h1.1v1.1h-1.1zM431.8 137.8h1.1v1.1h-1.1zM431.7 139.2h1.1v1.1h-1.1zM432.0 140.7h1.1v1.1h-1.1zM433.3 133.0h1.1v1.1h-1.1zM433.3 135.0h1.1v1.1h-1.1zM432.9 135.9h1.1v1.1h-1.1zM433.0 137.2h1.1v1.1h-1.1zM432.7 138.8h1.1v1.1h-1.1zM433.2 139.7h1.1v1.1h-1.1zM433.1 141.2h1.1v1.1h-1.1zM433.8 131.7h1.1v1.1h-1.1zM434.3 132.9h1.1v1.1h-1.1zM433.7 134.0h1.1v1.1h-1.1zM433.9 136.2h1.1v1.1h-1.1zM433.8 137.9h1.1v1.1h-1.1zM434.0 139.0h1.1v1.1h-1.1zM435.3 131.3h1.1v1.1h-1.1zM435.0 132.3h1.1v1.1h-1.1zM434.9 133.1h1.1v1.1h-1.1zM434.8 134.3h1.1v1.1h-1.1zM434.8 134.8h1.1v1.1h-1.1zM435.0 135.9h1.1v1.1h-1.1zM436.0 129.0h1.1v1.1h-1.1zM436.0 130.8h1.1v1.1h-1.1zM436.0 132.1h1.1v1.1h-1.1zM435.8 132.8h1.1v1.1h-1.1zM436.1 133.7h1.1v1.1h-1.1zM435.7 137.1h1.1v1.1h-1.1zM436.9 130.0h1.1v1.1h-1.1zM437.1 131.8h1.1v1.1h-1.1zM437.2 134.3h1.1v1.1h-1.1zM437.0 134.7h1.1v1.1h-1.1zM438.3 129.0h1.1v1.1h-1.1zM439.3 126.7h1.1v1.1h-1.1zM439.0 128.3h1.1v1.1h-1.1zM439.3 130.1h1.1v1.1h-1.1zM438.7 131.3h1.1v1.1h-1.1zM439.0 132.7h1.1v1.1h-1.1zM439.8 129.0h1.1v1.1h-1.1zM440.0 131.2h1.1v1.1h-1.1zM440.0 132.3h1.1v1.1h-1.1zM440.2 133.1h1.1v1.1h-1.1zM441.1 127.0h1.1v1.1h-1.1zM441.1 128.2h1.1v1.1h-1.1zM440.9 131.3h1.1v1.1h-1.1zM442.1 125.9h1.1v1.1h-1.1zM441.8 126.7h1.1v1.1h-1.1zM441.7 130.0h1.1v1.1h-1.1zM441.9 132.0h1.1v1.1h-1.1zM443.2 124.2h1.1v1.1h-1.1zM443.1 127.3h1.1v1.1h-1.1zM442.7 128.2h1.1v1.1h-1.1zM443.0 129.1h1.1v1.1h-1.1zM442.8 131.1h1.1v1.1h-1.1zM444.1 123.1h1.1v1.1h-1.1zM444.1 127.7h1.1v1.1h-1.1zM443.8 129.3h1.1v1.1h-1.1zM444.8 122.9h1.1v1.1h-1.1zM444.9 124.9h1.1v1.1h-1.1zM444.7 126.8h1.1v1.1h-1.1zM445.9 123.3h1.1v1.1h-1.1zM445.8 125.3h1.1v1.1h-1.1zM446.1 125.9h1.1v1.1h-1.1zM445.7 127.0h1.1v1.1h-1.1zM447.3 122.1h1.1v1.1h-1.1zM447.0 122.9h1.1v1.1h-1.1zM446.9 125.1h1.1v1.1h-1.1zM447.1 127.2h1.1v1.1h-1.1zM448.2 120.2h1.1v1.1h-1.1zM447.9 120.8h1.1v1.1h-1.1zM448.3 121.8h1.1v1.1h-1.1zM448.8 119.8h1.1v1.1h-1.1zM449.3 122.2h1.1v1.1h-1.1zM449.9 117.3h1.1v1.1h-1.1zM450.1 119.0h1.1v1.1h-1.1zM449.7 119.9h1.1v1.1h-1.1zM450.3 120.7h1.1v1.1h-1.1zM449.7 122.0h1.1v1.1h-1.1zM449.9 123.0h1.1v1.1h-1.1zM451.3 118.2h1.1v1.1h-1.1zM451.1 119.1h1.1v1.1h-1.1zM451.3 119.9h1.1v1.1h-1.1zM451.0 120.8h1.1v1.1h-1.1zM451.1 121.9h1.1v1.1h-1.1zM452.0 117.9h1.1v1.1h-1.1zM452.3 118.9h1.1v1.1h-1.1zM453.3 115.9h1.1v1.1h-1.1zM452.9 116.8h1.1v1.1h-1.1zM452.7 118.8h1.1v1.1h-1.1zM453.7 117.2h1.1v1.1h-1.1zM453.8 118.1h1.1v1.1h-1.1z" fill="#1b1b1b"/>
<path d="M339.40 100.60H497.80" stroke="#e3848e" stroke-width="1.7" fill="none"/>
<path d="M425.70 46.10V193.60" stroke="#d9505f" stroke-width="1.25" fill="none"/>
<path d="M334.90 193.50H339.40M339.50 193.60V197.90M334.90 186.50H339.40M346.50 193.60V197.90M334.90 182.50H339.40M351.50 193.60V197.90M334.90 179.50H339.40M354.50 193.60V197.90M334.90 177.50H339.40M356.50 193.60V197.90M334.90 176.50H339.40M358.50 193.60V197.90M334.90 174.50H339.40M360.50 193.60V197.90M334.90 173.50H339.40M361.50 193.60V197.90M334.90 172.50H339.40M362.50 193.60V197.90M334.90 170.50H339.40M364.50 193.60V197.90M334.90 163.50H339.40M371.50 193.60V197.90M334.90 159.50H339.40M376.50 193.60V197.90M334.90 156.50H339.40M379.50 193.60V197.90M334.90 154.50H339.40M381.50 193.60V197.90M334.90 152.50H339.40M383.50 193.60V197.90M334.90 150.50H339.40M385.50 193.60V197.90M334.90 149.50H339.40M387.50 193.60V197.90M334.90 148.50H339.40M388.50 193.60V197.90M334.90 147.50H339.40M389.50 193.60V197.90M334.90 140.50H339.40M397.50 193.60V197.90M334.90 135.50H339.40M401.50 193.60V197.90M334.90 132.50H339.40M404.50 193.60V197.90M334.90 130.50H339.40M407.50 193.60V197.90M334.90 128.50H339.40M409.50 193.60V197.90M334.90 127.50H339.40M411.50 193.60V197.90M334.90 125.50H339.40M412.50 193.60V197.90M334.90 124.50H339.40M413.50 193.60V197.90M334.90 123.50H339.40M415.50 193.60V197.90M334.90 116.50H339.40M422.50 193.60V197.90M334.90 112.50H339.40M427.50 193.60V197.90M334.90 109.50H339.40M430.50 193.60V197.90M334.90 107.50H339.40M433.50 193.60V197.90M334.90 105.50H339.40M435.50 193.60V197.90M334.90 104.50H339.40M437.50 193.60V197.90M334.90 102.50H339.40M438.50 193.60V197.90M334.90 101.50H339.40M440.50 193.60V197.90M334.90 100.50H339.40M441.50 193.60V197.90M334.90 92.50H339.40M448.50 193.60V197.90M334.90 88.50H339.40M453.50 193.60V197.90M334.90 85.50H339.40M456.50 193.60V197.90M334.90 82.50H339.40M458.50 193.60V197.90M334.90 80.50H339.40M460.50 193.60V197.90M334.90 79.50H339.40M462.50 193.60V197.90M334.90 77.50H339.40M463.50 193.60V197.90M334.90 76.50H339.40M465.50 193.60V197.90M334.90 75.50H339.40M466.50 193.60V197.90M334.90 68.50H339.40M474.50 193.60V197.90M334.90 64.50H339.40M478.50 193.60V197.90M334.90 61.50H339.40M481.50 193.60V197.90M334.90 59.50H339.40M484.50 193.60V197.90M334.90 57.50H339.40M486.50 193.60V197.90M334.90 56.50H339.40M487.50 193.60V197.90M334.90 55.50H339.40M489.50 193.60V197.90M334.90 53.50H339.40M490.50 193.60V197.90M334.90 52.50H339.40M491.50 193.60V197.90M334.90 46.10H339.40M497.80 193.60V197.90" stroke="#111" stroke-width="1" fill="none"/>
<rect x="339.40" y="46.10" width="158.40" height="147.50" fill="none" stroke="#000" stroke-width="1.4"/>
<text x="268.60" y="23.75" font-size="15.4" fill="#1a1a1b" textLength="7.60" lengthAdjust="spacingAndGlyphs">B</text>
<rect x="339.10" y="28.10" width="36.9" height="12.7" rx="6.35" fill="#adabab"/>
<text x="345.80" y="38.10" font-size="10.4" fill="#1e1e1e" textLength="24.00" lengthAdjust="spacingAndGlyphs" class="k">GATE</text>
<text x="382.05" y="37.90" font-size="10.2" fill="#1e1e1e" textLength="52.40" lengthAdjust="spacingAndGlyphs" class="k">[No Gating]</text>
<text x="326.40" y="196.90" font-size="10.6" fill="#1e1e1e" text-anchor="end" textLength="11.20" lengthAdjust="spacingAndGlyphs" class="k">10</text>
<text x="325.70" y="192.40" font-size="9.8" fill="#1e1e1e" textLength="5.00" lengthAdjust="spacingAndGlyphs" class="k">1</text>
<text x="326.40" y="174.90" font-size="10.6" fill="#1e1e1e" text-anchor="end" textLength="11.20" lengthAdjust="spacingAndGlyphs" class="k">10</text>
<text x="325.70" y="170.40" font-size="9.8" fill="#1e1e1e" textLength="5.00" lengthAdjust="spacingAndGlyphs" class="k">2</text>
<text x="326.40" y="151.00" font-size="10.6" fill="#1e1e1e" text-anchor="end" textLength="11.20" lengthAdjust="spacingAndGlyphs" class="k">10</text>
<text x="325.70" y="146.50" font-size="9.8" fill="#1e1e1e" textLength="5.00" lengthAdjust="spacingAndGlyphs" class="k">3</text>
<text x="326.40" y="127.50" font-size="10.6" fill="#1e1e1e" text-anchor="end" textLength="11.20" lengthAdjust="spacingAndGlyphs" class="k">10</text>
<text x="325.70" y="123.00" font-size="9.8" fill="#1e1e1e" textLength="5.00" lengthAdjust="spacingAndGlyphs" class="k">4</text>
<text x="326.40" y="104.30" font-size="10.6" fill="#1e1e1e" text-anchor="end" textLength="11.20" lengthAdjust="spacingAndGlyphs" class="k">10</text>
<text x="325.70" y="99.80" font-size="9.8" fill="#1e1e1e" textLength="5.00" lengthAdjust="spacingAndGlyphs" class="k">5</text>
<text x="326.40" y="80.50" font-size="10.6" fill="#1e1e1e" text-anchor="end" textLength="11.20" lengthAdjust="spacingAndGlyphs" class="k">10</text>
<text x="325.70" y="76.00" font-size="9.8" fill="#1e1e1e" textLength="5.00" lengthAdjust="spacingAndGlyphs" class="k">6</text>
<text x="320.40" y="49.40" font-size="10.6" fill="#1e1e1e" text-anchor="end" textLength="11.60" lengthAdjust="spacingAndGlyphs" class="k">10</text>
<text x="319.70" y="45.70" font-size="9.8" fill="#1e1e1e" textLength="11.00" lengthAdjust="spacingAndGlyphs" class="k">7.2</text>
<text x="342.90" y="211.90" font-size="10.6" fill="#1e1e1e" text-anchor="end" textLength="11.40" lengthAdjust="spacingAndGlyphs" class="k">10</text>
<text x="342.90" y="208.00" font-size="9.8" fill="#1e1e1e" textLength="5.00" lengthAdjust="spacingAndGlyphs" class="k">1</text>
<text x="366.00" y="211.90" font-size="10.6" fill="#1e1e1e" text-anchor="end" textLength="11.40" lengthAdjust="spacingAndGlyphs" class="k">10</text>
<text x="366.00" y="208.00" font-size="9.8" fill="#1e1e1e" textLength="5.00" lengthAdjust="spacingAndGlyphs" class="k">2</text>
<text x="391.60" y="211.90" font-size="10.6" fill="#1e1e1e" text-anchor="end" textLength="11.40" lengthAdjust="spacingAndGlyphs" class="k">10</text>
<text x="391.60" y="208.00" font-size="9.8" fill="#1e1e1e" textLength="5.00" lengthAdjust="spacingAndGlyphs" class="k">3</text>
<text x="417.60" y="211.90" font-size="10.6" fill="#1e1e1e" text-anchor="end" textLength="11.40" lengthAdjust="spacingAndGlyphs" class="k">10</text>
<text x="417.60" y="208.00" font-size="9.8" fill="#1e1e1e" textLength="5.00" lengthAdjust="spacingAndGlyphs" class="k">4</text>
<text x="442.20" y="211.90" font-size="10.6" fill="#1e1e1e" text-anchor="end" textLength="11.40" lengthAdjust="spacingAndGlyphs" class="k">10</text>
<text x="442.20" y="208.00" font-size="9.8" fill="#1e1e1e" textLength="5.00" lengthAdjust="spacingAndGlyphs" class="k">5</text>
<text x="467.60" y="211.90" font-size="10.6" fill="#1e1e1e" text-anchor="end" textLength="11.40" lengthAdjust="spacingAndGlyphs" class="k">10</text>
<text x="467.60" y="208.00" font-size="9.8" fill="#1e1e1e" textLength="5.00" lengthAdjust="spacingAndGlyphs" class="k">6</text>
<text x="498.50" y="211.90" font-size="10.6" fill="#1e1e1e" text-anchor="end" textLength="11.20" lengthAdjust="spacingAndGlyphs" class="k">10</text>
<text x="498.60" y="208.30" font-size="9.8" fill="#1e1e1e" textLength="10.60" lengthAdjust="spacingAndGlyphs" class="k">7.2</text>
<text x="0" y="0" font-size="13" fill="#1e1e1e" text-anchor="middle" textLength="31.2" lengthAdjust="spacingAndGlyphs" class="k" transform="translate(298.50,119.70) rotate(-90)">FL2-A</text>
<text x="418.50" y="230.90" font-size="13" fill="#1e1e1e" text-anchor="middle" textLength="31.20" lengthAdjust="spacingAndGlyphs" class="k">FL1-A</text>
<svg x="339.40" y="46.10" width="158.40" height="147.50" overflow="hidden">
<text x="0.90" y="9.40" font-size="11" fill="#d9505f" textLength="32.90" lengthAdjust="spacingAndGlyphs">Q4-UL</text>
<text x="1.00" y="18.60" font-size="10.2" fill="#d9505f" textLength="24.20" lengthAdjust="spacingAndGlyphs">0.0%</text>
<text x="158.10" y="9.30" font-size="11" fill="#d9505f" text-anchor="end" textLength="35.00" lengthAdjust="spacingAndGlyphs">Q4-UR</text>
<text x="123.20" y="19.00" font-size="10.2" fill="#d9505f" textLength="24.80" lengthAdjust="spacingAndGlyphs">0.0%</text>
<text x="125.40" y="138.40" font-size="11" fill="#d9505f" textLength="32.40" lengthAdjust="spacingAndGlyphs">Q4-LR</text>
<text x="125.40" y="147.70" font-size="10.2" fill="#d9505f" textLength="24.70" lengthAdjust="spacingAndGlyphs">0.8%</text>
<text x="0.70" y="138.70" font-size="11" fill="#e0404f" textLength="31.10" lengthAdjust="spacingAndGlyphs" stroke="#ffffff" stroke-opacity="0.3" stroke-width="1" paint-order="stroke">Q4-LL</text>
<text x="0.70" y="148.10" font-size="10.2" fill="#e0404f" textLength="30.00" lengthAdjust="spacingAndGlyphs" stroke="#ffffff" stroke-opacity="0.3" stroke-width="1" paint-order="stroke">99.2%</text>
</svg>
<text x="440.60" y="172.60" font-size="10.2" fill="#1e1e1e" textLength="29.40" lengthAdjust="spacingAndGlyphs" class="k">Fli fish</text>
<path d="M78.0 395.8L84.0 393.5L89.5 390.4L96.0 388.0L102.9 385.0L108.0 382.0L113.7 378.3L117.5 375.5L120.4 373.5L122.5 373.3L124.5 375.6L127.0 378.0L128.5 381.0L130.3 385.0L130.8 401.8L130.2 413.7L128.4 425.5L127.8 433.8L127.8 439.7L78.0 439.7Z" fill="#1b1b1b"/>
<path d="M162.38 392.75L167.27 389.19L177.42 379.52L185.77 370.85L191.17 364.89L190.63 364.31L184.27 369.23L174.98 376.88L164.55 386.25L160.62 390.85Z" fill="#1b1b1b"/>
<path d="M79 294h1v1h-1zM79 295h1v1h-1zM79 297h1v1h-1zM79 300h1v1h-1zM79 305h1v1h-1zM79 310h1v1h-1zM79 320h1v1h-1zM79 322h1v1h-1zM79 323h1v1h-1zM79 324h1v1h-1zM79 326h1v1h-1zM79 329h1v1h-1zM79 331h1v1h-1zM79 334h1v1h-1zM79 335h1v1h-1zM79 336h1v1h-1zM79 339h1v1h-1zM79 343h1v1h-1zM79 345h1v1h-1zM79 347h1v1h-1zM79 350h1v1h-1zM79 351h1v1h-1zM79 357h1v1h-1zM79 358h1v1h-1zM79 360h1v1h-1zM79 361h1v1h-1zM79 366h1v1h-1zM79 367h1v1h-1zM79 369h1v1h-1zM79 371h1v1h-1zM79 374h1v1h-1zM79 377h1v1h-1zM79 380h1v1h-1zM79 386h1v1h-1zM79 389h1v1h-1zM79 391h1v1h-1zM79 393h1v1h-1zM79 394h1v1h-1zM79 396h1v1h-1zM79 397h1v1h-1zM79 400h1v1h-1zM79 402h1v1h-1zM79 403h1v1h-1zM79 404h1v1h-1zM79 406h1v1h-1zM79 407h1v1h-1zM79 409h1v1h-1zM79 410h1v1h-1zM79 411h1v1h-1zM80 413h1v1h-1zM80 414h1v1h-1zM81 415h2v1h-2zM79 418h1v1h-1zM82 418h1v1h-1zM79 419h1v1h-1zM82 420h3v1h-3zM80 421h1v1h-1zM82 421h1v1h-1zM79 422h1v1h-1zM82 422h1v1h-1zM86 422h1v1h-1zM80 423h3v1h-3zM84 423h2v1h-2zM81 424h1v1h-1zM83 424h1v1h-1zM85 424h2v1h-2zM81 425h1v1h-1zM81 426h1v1h-1zM84 426h1v1h-1zM80 427h2v1h-2zM86 427h1v1h-1zM89 427h1v1h-1zM82 428h6v1h-6zM89 428h1v1h-1zM82 429h1v1h-1zM87 429h1v1h-1zM81 430h1v1h-1zM88 430h1v1h-1zM80 431h1v1h-1zM90 431h1v1h-1zM80 432h2v1h-2zM91 432h1v1h-1zM80 433h1v1h-1zM82 433h1v1h-1zM88 433h2v1h-2zM80 434h3v1h-3zM84 434h1v1h-1zM89 434h1v1h-1zM79 435h1v1h-1zM81 435h1v1h-1zM86 435h1v1h-1zM91 435h2v1h-2zM79 436h7v1h-7zM87 436h1v1h-1zM79 437h2v1h-2zM83 437h3v1h-3zM87 437h2v1h-2zM81 438h1v1h-1zM83 438h1v1h-1zM89 438h4v1h-4z" fill="#f4f4f4" shape-rendering="crispEdges"/>
<path d="M79.0 433.8H127.8M79.0 438.6H127.8" stroke="#9a9a9a" stroke-width="0.9"/>
<path d="M79.0 381.8h1.1v1.1h-1.1zM79.2 389.0h1.1v1.1h-1.1zM79.1 392.0h1.1v1.1h-1.1zM78.9 393.1h1.1v1.1h-1.1zM79.3 394.2h1.1v1.1h-1.1zM79.9 383.2h1.1v1.1h-1.1zM80.0 383.9h1.1v1.1h-1.1zM79.9 385.3h1.1v1.1h-1.1zM80.2 387.2h1.1v1.1h-1.1zM79.7 389.9h1.1v1.1h-1.1zM80.2 392.0h1.1v1.1h-1.1zM80.0 393.1h1.1v1.1h-1.1zM79.9 394.2h1.1v1.1h-1.1zM81.1 383.1h1.1v1.1h-1.1zM81.3 388.9h1.1v1.1h-1.1zM81.1 390.3h1.1v1.1h-1.1zM81.2 392.0h1.1v1.1h-1.1zM80.9 392.9h1.1v1.1h-1.1zM80.9 394.3h1.1v1.1h-1.1zM81.7 378.2h1.1v1.1h-1.1zM82.2 378.7h1.1v1.1h-1.1zM82.2 387.7h1.1v1.1h-1.1zM81.8 391.3h1.1v1.1h-1.1zM82.2 392.1h1.1v1.1h-1.1zM82.1 392.7h1.1v1.1h-1.1zM83.1 352.0h1.1v1.1h-1.1zM83.2 380.0h1.1v1.1h-1.1zM83.2 383.7h1.1v1.1h-1.1zM83.0 384.8h1.1v1.1h-1.1zM83.3 387.1h1.1v1.1h-1.1zM83.1 387.8h1.1v1.1h-1.1zM82.8 389.9h1.1v1.1h-1.1zM82.9 390.8h1.1v1.1h-1.1zM82.8 392.1h1.1v1.1h-1.1zM83.3 393.2h1.1v1.1h-1.1zM83.7 370.2h1.1v1.1h-1.1zM83.7 374.3h1.1v1.1h-1.1zM84.2 381.9h1.1v1.1h-1.1zM84.2 390.8h1.1v1.1h-1.1zM83.8 391.9h1.1v1.1h-1.1zM84.2 393.3h1.1v1.1h-1.1zM85.2 376.2h1.1v1.1h-1.1zM85.1 383.3h1.1v1.1h-1.1zM84.8 386.1h1.1v1.1h-1.1zM84.8 388.1h1.1v1.1h-1.1zM85.2 391.2h1.1v1.1h-1.1zM85.1 391.8h1.1v1.1h-1.1zM86.2 368.2h1.1v1.1h-1.1zM86.2 382.8h1.1v1.1h-1.1zM86.1 385.7h1.1v1.1h-1.1zM85.8 386.8h1.1v1.1h-1.1zM86.2 387.8h1.1v1.1h-1.1zM86.2 389.2h1.1v1.1h-1.1zM85.9 390.0h1.1v1.1h-1.1zM85.8 391.2h1.1v1.1h-1.1zM86.8 363.8h1.1v1.1h-1.1zM87.1 382.8h1.1v1.1h-1.1zM86.7 390.1h1.1v1.1h-1.1zM87.3 391.2h1.1v1.1h-1.1zM88.1 379.0h1.1v1.1h-1.1zM87.9 383.0h1.1v1.1h-1.1zM87.9 385.9h1.1v1.1h-1.1zM87.8 387.9h1.1v1.1h-1.1zM87.7 389.3h1.1v1.1h-1.1zM88.1 390.1h1.1v1.1h-1.1zM89.2 365.7h1.1v1.1h-1.1zM89.3 368.0h1.1v1.1h-1.1zM88.7 385.8h1.1v1.1h-1.1zM89.2 389.0h1.1v1.1h-1.1zM88.8 390.0h1.1v1.1h-1.1zM90.0 349.0h1.1v1.1h-1.1zM90.1 376.2h1.1v1.1h-1.1zM89.9 379.8h1.1v1.1h-1.1zM89.9 380.8h1.1v1.1h-1.1zM89.8 381.8h1.1v1.1h-1.1zM90.2 383.0h1.1v1.1h-1.1zM89.7 384.1h1.1v1.1h-1.1zM89.8 386.1h1.1v1.1h-1.1zM90.0 388.3h1.1v1.1h-1.1zM90.3 389.0h1.1v1.1h-1.1zM91.3 372.0h1.1v1.1h-1.1zM90.9 381.7h1.1v1.1h-1.1zM91.3 384.1h1.1v1.1h-1.1zM90.8 386.7h1.1v1.1h-1.1zM91.3 387.9h1.1v1.1h-1.1zM91.3 389.1h1.1v1.1h-1.1zM91.7 387.2h1.1v1.1h-1.1zM91.8 387.8h1.1v1.1h-1.1zM93.1 377.8h1.1v1.1h-1.1zM93.2 382.7h1.1v1.1h-1.1zM93.3 383.8h1.1v1.1h-1.1zM92.7 386.9h1.1v1.1h-1.1zM93.3 388.3h1.1v1.1h-1.1zM93.9 378.7h1.1v1.1h-1.1zM93.8 381.7h1.1v1.1h-1.1zM93.8 384.8h1.1v1.1h-1.1zM94.3 385.7h1.1v1.1h-1.1zM93.7 387.3h1.1v1.1h-1.1zM94.1 387.8h1.1v1.1h-1.1zM94.8 383.1h1.1v1.1h-1.1zM94.9 384.2h1.1v1.1h-1.1zM94.8 384.8h1.1v1.1h-1.1zM95.0 386.7h1.1v1.1h-1.1zM96.3 355.1h1.1v1.1h-1.1zM96.0 373.8h1.1v1.1h-1.1zM96.0 374.9h1.1v1.1h-1.1zM95.9 376.2h1.1v1.1h-1.1zM96.2 380.2h1.1v1.1h-1.1zM96.0 382.8h1.1v1.1h-1.1zM96.3 384.8h1.1v1.1h-1.1zM96.2 385.9h1.1v1.1h-1.1zM96.0 387.0h1.1v1.1h-1.1zM96.8 376.1h1.1v1.1h-1.1zM97.3 377.9h1.1v1.1h-1.1zM96.9 382.7h1.1v1.1h-1.1zM96.7 384.2h1.1v1.1h-1.1zM96.8 385.2h1.1v1.1h-1.1zM97.1 385.7h1.1v1.1h-1.1zM97.1 387.1h1.1v1.1h-1.1zM97.7 345.8h1.1v1.1h-1.1zM97.9 365.3h1.1v1.1h-1.1zM98.3 368.8h1.1v1.1h-1.1zM97.9 376.1h1.1v1.1h-1.1zM97.8 381.0h1.1v1.1h-1.1zM98.2 384.1h1.1v1.1h-1.1zM97.8 384.7h1.1v1.1h-1.1zM97.8 386.1h1.1v1.1h-1.1zM99.3 366.9h1.1v1.1h-1.1zM98.9 377.9h1.1v1.1h-1.1zM99.0 379.7h1.1v1.1h-1.1zM98.8 380.7h1.1v1.1h-1.1zM98.7 385.1h1.1v1.1h-1.1zM99.1 385.8h1.1v1.1h-1.1zM100.2 370.9h1.1v1.1h-1.1zM99.7 373.9h1.1v1.1h-1.1zM100.3 379.0h1.1v1.1h-1.1zM100.2 380.7h1.1v1.1h-1.1zM100.1 382.1h1.1v1.1h-1.1zM100.0 382.8h1.1v1.1h-1.1zM100.3 384.2h1.1v1.1h-1.1zM100.1 385.2h1.1v1.1h-1.1zM100.9 375.1h1.1v1.1h-1.1zM101.2 383.3h1.1v1.1h-1.1zM100.8 384.3h1.1v1.1h-1.1zM101.1 384.8h1.1v1.1h-1.1zM102.1 376.9h1.1v1.1h-1.1zM101.8 377.9h1.1v1.1h-1.1zM101.8 378.8h1.1v1.1h-1.1zM102.0 381.1h1.1v1.1h-1.1zM102.2 383.3h1.1v1.1h-1.1zM101.7 384.2h1.1v1.1h-1.1zM102.9 365.0h1.1v1.1h-1.1zM103.2 368.1h1.1v1.1h-1.1zM103.3 369.7h1.1v1.1h-1.1zM103.3 371.0h1.1v1.1h-1.1zM103.0 377.2h1.1v1.1h-1.1zM102.7 381.1h1.1v1.1h-1.1zM102.7 382.9h1.1v1.1h-1.1zM102.9 383.8h1.1v1.1h-1.1zM104.3 380.2h1.1v1.1h-1.1zM104.2 383.3h1.1v1.1h-1.1zM104.9 381.0h1.1v1.1h-1.1zM104.8 382.3h1.1v1.1h-1.1zM104.9 383.3h1.1v1.1h-1.1zM105.7 370.8h1.1v1.1h-1.1zM105.8 376.7h1.1v1.1h-1.1zM105.9 378.2h1.1v1.1h-1.1zM106.2 379.0h1.1v1.1h-1.1zM106.3 380.1h1.1v1.1h-1.1zM106.1 381.0h1.1v1.1h-1.1zM106.0 382.0h1.1v1.1h-1.1zM107.0 367.7h1.1v1.1h-1.1zM107.3 370.2h1.1v1.1h-1.1zM106.7 375.1h1.1v1.1h-1.1zM106.9 377.2h1.1v1.1h-1.1zM107.0 378.9h1.1v1.1h-1.1zM106.7 380.1h1.1v1.1h-1.1zM107.2 382.3h1.1v1.1h-1.1zM107.9 358.3h1.1v1.1h-1.1zM108.3 372.7h1.1v1.1h-1.1zM108.2 374.3h1.1v1.1h-1.1zM107.9 375.7h1.1v1.1h-1.1zM107.9 377.8h1.1v1.1h-1.1zM107.8 380.1h1.1v1.1h-1.1zM108.0 381.1h1.1v1.1h-1.1zM108.8 372.3h1.1v1.1h-1.1zM109.2 372.7h1.1v1.1h-1.1zM109.1 374.1h1.1v1.1h-1.1zM109.2 375.0h1.1v1.1h-1.1zM108.9 377.2h1.1v1.1h-1.1zM108.8 377.8h1.1v1.1h-1.1zM108.7 379.3h1.1v1.1h-1.1zM109.0 380.0h1.1v1.1h-1.1zM110.3 369.1h1.1v1.1h-1.1zM109.9 371.3h1.1v1.1h-1.1zM110.3 375.1h1.1v1.1h-1.1zM109.7 376.7h1.1v1.1h-1.1zM109.8 379.2h1.1v1.1h-1.1zM110.3 380.0h1.1v1.1h-1.1zM110.9 354.3h1.1v1.1h-1.1zM111.1 363.3h1.1v1.1h-1.1zM111.2 370.1h1.1v1.1h-1.1zM110.8 376.2h1.1v1.1h-1.1zM110.7 376.9h1.1v1.1h-1.1zM111.3 377.9h1.1v1.1h-1.1zM111.1 378.7h1.1v1.1h-1.1zM112.3 369.2h1.1v1.1h-1.1zM112.1 371.9h1.1v1.1h-1.1zM112.0 375.3h1.1v1.1h-1.1zM111.7 376.1h1.1v1.1h-1.1zM111.7 376.9h1.1v1.1h-1.1zM112.1 378.2h1.1v1.1h-1.1zM113.2 368.7h1.1v1.1h-1.1zM112.9 373.0h1.1v1.1h-1.1zM113.0 373.7h1.1v1.1h-1.1zM112.8 375.1h1.1v1.1h-1.1zM113.1 376.1h1.1v1.1h-1.1zM113.3 377.2h1.1v1.1h-1.1zM112.7 378.1h1.1v1.1h-1.1zM113.7 365.1h1.1v1.1h-1.1zM114.1 371.0h1.1v1.1h-1.1zM114.0 372.7h1.1v1.1h-1.1zM113.7 377.1h1.1v1.1h-1.1zM114.7 365.7h1.1v1.1h-1.1zM115.1 368.3h1.1v1.1h-1.1zM115.1 369.2h1.1v1.1h-1.1zM114.8 373.0h1.1v1.1h-1.1zM115.3 376.2h1.1v1.1h-1.1zM116.2 361.0h1.1v1.1h-1.1zM116.0 369.0h1.1v1.1h-1.1zM115.8 369.9h1.1v1.1h-1.1zM115.7 372.0h1.1v1.1h-1.1zM116.0 372.8h1.1v1.1h-1.1zM115.9 373.9h1.1v1.1h-1.1zM115.9 374.9h1.1v1.1h-1.1zM115.7 375.7h1.1v1.1h-1.1zM117.2 362.9h1.1v1.1h-1.1zM116.8 365.7h1.1v1.1h-1.1zM117.2 370.1h1.1v1.1h-1.1zM117.2 372.0h1.1v1.1h-1.1zM116.7 372.9h1.1v1.1h-1.1zM117.0 374.1h1.1v1.1h-1.1zM117.3 375.0h1.1v1.1h-1.1zM118.0 369.3h1.1v1.1h-1.1zM118.0 371.1h1.1v1.1h-1.1zM117.8 372.2h1.1v1.1h-1.1zM117.7 372.8h1.1v1.1h-1.1zM118.3 374.0h1.1v1.1h-1.1zM119.3 370.1h1.1v1.1h-1.1zM118.8 372.2h1.1v1.1h-1.1zM119.0 373.3h1.1v1.1h-1.1zM119.2 374.2h1.1v1.1h-1.1zM119.9 351.0h1.1v1.1h-1.1zM119.7 363.1h1.1v1.1h-1.1zM119.9 366.8h1.1v1.1h-1.1zM119.7 368.2h1.1v1.1h-1.1zM119.9 371.3h1.1v1.1h-1.1zM120.0 372.8h1.1v1.1h-1.1zM120.7 369.0h1.1v1.1h-1.1zM120.7 371.0h1.1v1.1h-1.1zM121.3 371.7h1.1v1.1h-1.1zM120.7 372.8h1.1v1.1h-1.1zM121.7 365.0h1.1v1.1h-1.1zM122.3 365.9h1.1v1.1h-1.1zM121.8 366.8h1.1v1.1h-1.1zM121.9 370.1h1.1v1.1h-1.1zM122.2 371.3h1.1v1.1h-1.1zM122.0 371.8h1.1v1.1h-1.1zM122.2 372.9h1.1v1.1h-1.1zM123.1 355.9h1.1v1.1h-1.1zM123.2 365.3h1.1v1.1h-1.1zM123.2 365.7h1.1v1.1h-1.1zM123.2 367.7h1.1v1.1h-1.1zM123.2 368.9h1.1v1.1h-1.1zM123.3 370.9h1.1v1.1h-1.1zM122.8 372.1h1.1v1.1h-1.1zM123.1 373.0h1.1v1.1h-1.1zM122.7 374.2h1.1v1.1h-1.1zM124.0 364.3h1.1v1.1h-1.1zM123.8 368.0h1.1v1.1h-1.1zM124.3 368.9h1.1v1.1h-1.1zM124.3 369.9h1.1v1.1h-1.1zM124.0 371.7h1.1v1.1h-1.1zM123.7 373.0h1.1v1.1h-1.1zM123.8 374.0h1.1v1.1h-1.1zM124.1 375.3h1.1v1.1h-1.1zM124.8 366.8h1.1v1.1h-1.1zM125.3 369.3h1.1v1.1h-1.1zM124.8 370.3h1.1v1.1h-1.1zM125.3 371.0h1.1v1.1h-1.1zM125.3 372.1h1.1v1.1h-1.1zM125.3 373.0h1.1v1.1h-1.1zM125.0 374.1h1.1v1.1h-1.1zM124.9 375.2h1.1v1.1h-1.1zM124.9 375.9h1.1v1.1h-1.1zM126.2 367.9h1.1v1.1h-1.1zM126.1 369.8h1.1v1.1h-1.1zM126.3 371.3h1.1v1.1h-1.1zM126.0 374.2h1.1v1.1h-1.1zM126.3 375.8h1.1v1.1h-1.1zM126.0 377.3h1.1v1.1h-1.1zM127.1 363.1h1.1v1.1h-1.1zM127.2 366.8h1.1v1.1h-1.1zM126.7 368.2h1.1v1.1h-1.1zM126.9 370.0h1.1v1.1h-1.1zM126.9 371.9h1.1v1.1h-1.1zM126.7 373.3h1.1v1.1h-1.1zM127.2 375.0h1.1v1.1h-1.1zM126.7 375.7h1.1v1.1h-1.1zM127.2 376.9h1.1v1.1h-1.1zM127.0 378.0h1.1v1.1h-1.1zM126.8 378.7h1.1v1.1h-1.1zM126.8 432.0h1.1v1.1h-1.1zM127.0 432.9h1.1v1.1h-1.1zM126.8 433.8h1.1v1.1h-1.1zM127.1 435.1h1.1v1.1h-1.1zM126.8 435.9h1.1v1.1h-1.1zM127.2 436.8h1.1v1.1h-1.1zM126.8 438.0h1.1v1.1h-1.1zM127.7 363.1h1.1v1.1h-1.1zM127.9 367.2h1.1v1.1h-1.1zM127.7 369.0h1.1v1.1h-1.1zM127.9 370.8h1.1v1.1h-1.1zM127.7 376.0h1.1v1.1h-1.1zM127.9 377.9h1.1v1.1h-1.1zM128.1 379.1h1.1v1.1h-1.1zM128.2 379.9h1.1v1.1h-1.1zM128.0 380.9h1.1v1.1h-1.1zM128.0 422.1h1.1v1.1h-1.1zM127.9 423.0h1.1v1.1h-1.1zM127.7 424.3h1.1v1.1h-1.1zM127.9 424.8h1.1v1.1h-1.1zM128.1 425.7h1.1v1.1h-1.1zM128.2 427.1h1.1v1.1h-1.1zM127.9 428.2h1.1v1.1h-1.1zM127.7 429.1h1.1v1.1h-1.1zM127.8 429.8h1.1v1.1h-1.1zM128.0 430.8h1.1v1.1h-1.1zM128.3 432.0h1.1v1.1h-1.1zM128.0 434.2h1.1v1.1h-1.1zM128.0 435.8h1.1v1.1h-1.1zM127.9 437.3h1.1v1.1h-1.1zM129.0 361.0h1.1v1.1h-1.1zM129.2 365.0h1.1v1.1h-1.1zM129.1 366.1h1.1v1.1h-1.1zM129.3 367.2h1.1v1.1h-1.1zM129.2 372.7h1.1v1.1h-1.1zM128.9 374.3h1.1v1.1h-1.1zM129.1 375.3h1.1v1.1h-1.1zM128.9 376.0h1.1v1.1h-1.1zM129.0 378.8h1.1v1.1h-1.1zM129.2 379.7h1.1v1.1h-1.1zM129.3 380.9h1.1v1.1h-1.1zM128.9 381.8h1.1v1.1h-1.1zM129.2 382.8h1.1v1.1h-1.1zM129.1 416.3h1.1v1.1h-1.1zM129.2 416.7h1.1v1.1h-1.1zM129.0 418.3h1.1v1.1h-1.1zM129.1 419.0h1.1v1.1h-1.1zM129.2 420.3h1.1v1.1h-1.1zM129.3 421.3h1.1v1.1h-1.1zM129.0 421.9h1.1v1.1h-1.1zM128.9 422.9h1.1v1.1h-1.1zM129.0 423.8h1.1v1.1h-1.1zM128.9 424.9h1.1v1.1h-1.1zM129.3 427.3h1.1v1.1h-1.1zM129.3 429.9h1.1v1.1h-1.1zM128.8 432.0h1.1v1.1h-1.1zM128.8 433.0h1.1v1.1h-1.1zM129.0 435.0h1.1v1.1h-1.1zM129.0 436.8h1.1v1.1h-1.1zM129.3 437.8h1.1v1.1h-1.1zM130.3 343.9h1.1v1.1h-1.1zM129.9 358.7h1.1v1.1h-1.1zM130.1 373.2h1.1v1.1h-1.1zM130.1 377.3h1.1v1.1h-1.1zM129.7 377.8h1.1v1.1h-1.1zM129.7 379.2h1.1v1.1h-1.1zM129.8 380.2h1.1v1.1h-1.1zM130.2 382.0h1.1v1.1h-1.1zM130.2 383.2h1.1v1.1h-1.1zM129.9 383.8h1.1v1.1h-1.1zM130.2 385.3h1.1v1.1h-1.1zM130.1 387.3h1.1v1.1h-1.1zM130.2 388.1h1.1v1.1h-1.1zM129.9 389.3h1.1v1.1h-1.1zM129.7 389.9h1.1v1.1h-1.1zM130.0 392.3h1.1v1.1h-1.1zM130.3 394.3h1.1v1.1h-1.1zM129.9 396.0h1.1v1.1h-1.1zM130.3 399.1h1.1v1.1h-1.1zM129.8 400.1h1.1v1.1h-1.1zM130.2 400.8h1.1v1.1h-1.1zM130.3 401.9h1.1v1.1h-1.1zM130.3 406.0h1.1v1.1h-1.1zM130.3 407.2h1.1v1.1h-1.1zM130.2 408.0h1.1v1.1h-1.1zM130.0 409.0h1.1v1.1h-1.1zM130.2 410.2h1.1v1.1h-1.1zM130.1 411.2h1.1v1.1h-1.1zM130.2 412.2h1.1v1.1h-1.1zM129.8 413.2h1.1v1.1h-1.1zM129.9 416.1h1.1v1.1h-1.1zM130.2 420.2h1.1v1.1h-1.1zM130.3 420.7h1.1v1.1h-1.1zM130.0 423.1h1.1v1.1h-1.1zM129.7 424.9h1.1v1.1h-1.1zM129.8 430.2h1.1v1.1h-1.1zM129.9 437.2h1.1v1.1h-1.1zM129.8 437.7h1.1v1.1h-1.1zM131.2 366.2h1.1v1.1h-1.1zM131.1 370.2h1.1v1.1h-1.1zM131.2 378.0h1.1v1.1h-1.1zM131.0 380.3h1.1v1.1h-1.1zM130.8 381.3h1.1v1.1h-1.1zM131.0 381.7h1.1v1.1h-1.1zM131.1 382.7h1.1v1.1h-1.1zM130.8 383.8h1.1v1.1h-1.1zM130.9 385.0h1.1v1.1h-1.1zM130.7 386.0h1.1v1.1h-1.1zM130.7 387.1h1.1v1.1h-1.1zM131.1 387.9h1.1v1.1h-1.1zM130.7 388.8h1.1v1.1h-1.1zM130.7 390.0h1.1v1.1h-1.1zM131.2 391.3h1.1v1.1h-1.1zM131.2 391.9h1.1v1.1h-1.1zM131.2 392.8h1.1v1.1h-1.1zM131.2 395.0h1.1v1.1h-1.1zM131.3 396.2h1.1v1.1h-1.1zM131.1 398.0h1.1v1.1h-1.1zM131.3 400.3h1.1v1.1h-1.1zM131.2 402.0h1.1v1.1h-1.1zM131.3 405.2h1.1v1.1h-1.1zM131.3 406.2h1.1v1.1h-1.1zM131.1 407.2h1.1v1.1h-1.1zM131.2 408.2h1.1v1.1h-1.1zM131.1 409.1h1.1v1.1h-1.1zM130.9 410.7h1.1v1.1h-1.1zM131.3 411.8h1.1v1.1h-1.1zM131.3 413.9h1.1v1.1h-1.1zM131.3 415.1h1.1v1.1h-1.1zM130.7 416.2h1.1v1.1h-1.1zM131.2 418.3h1.1v1.1h-1.1zM131.0 427.1h1.1v1.1h-1.1zM131.8 367.8h1.1v1.1h-1.1zM131.8 369.1h1.1v1.1h-1.1zM131.9 372.2h1.1v1.1h-1.1zM132.3 373.0h1.1v1.1h-1.1zM132.1 379.9h1.1v1.1h-1.1zM132.1 382.3h1.1v1.1h-1.1zM131.9 384.1h1.1v1.1h-1.1zM131.8 387.2h1.1v1.1h-1.1zM132.2 388.8h1.1v1.1h-1.1zM132.0 395.3h1.1v1.1h-1.1zM131.8 396.8h1.1v1.1h-1.1zM132.0 399.3h1.1v1.1h-1.1zM131.8 399.7h1.1v1.1h-1.1zM131.9 402.1h1.1v1.1h-1.1zM131.9 405.0h1.1v1.1h-1.1zM132.3 408.3h1.1v1.1h-1.1zM132.2 412.1h1.1v1.1h-1.1zM132.3 415.3h1.1v1.1h-1.1zM132.2 415.9h1.1v1.1h-1.1zM131.7 422.0h1.1v1.1h-1.1zM131.9 434.1h1.1v1.1h-1.1zM132.8 352.2h1.1v1.1h-1.1zM133.1 359.7h1.1v1.1h-1.1zM133.0 367.0h1.1v1.1h-1.1zM132.9 368.9h1.1v1.1h-1.1zM133.2 373.8h1.1v1.1h-1.1zM133.0 379.1h1.1v1.1h-1.1zM132.9 382.1h1.1v1.1h-1.1zM133.1 384.1h1.1v1.1h-1.1zM133.3 384.7h1.1v1.1h-1.1zM133.3 388.9h1.1v1.1h-1.1zM133.1 393.7h1.1v1.1h-1.1zM133.3 395.2h1.1v1.1h-1.1zM133.1 396.3h1.1v1.1h-1.1zM133.0 398.1h1.1v1.1h-1.1zM132.9 399.0h1.1v1.1h-1.1zM133.3 399.8h1.1v1.1h-1.1zM132.7 413.9h1.1v1.1h-1.1zM133.2 423.7h1.1v1.1h-1.1zM132.8 425.2h1.1v1.1h-1.1zM133.2 431.1h1.1v1.1h-1.1zM134.1 363.0h1.1v1.1h-1.1zM134.1 371.7h1.1v1.1h-1.1zM134.2 375.2h1.1v1.1h-1.1zM133.7 379.9h1.1v1.1h-1.1zM134.1 388.8h1.1v1.1h-1.1zM134.3 396.2h1.1v1.1h-1.1zM133.9 397.2h1.1v1.1h-1.1zM133.9 397.9h1.1v1.1h-1.1zM134.0 404.3h1.1v1.1h-1.1zM133.8 405.7h1.1v1.1h-1.1zM133.8 408.9h1.1v1.1h-1.1zM133.9 410.3h1.1v1.1h-1.1zM134.2 435.3h1.1v1.1h-1.1zM134.9 355.3h1.1v1.1h-1.1zM134.9 370.1h1.1v1.1h-1.1zM134.9 374.2h1.1v1.1h-1.1zM135.0 376.1h1.1v1.1h-1.1zM135.3 379.9h1.1v1.1h-1.1zM134.9 391.8h1.1v1.1h-1.1zM135.0 394.2h1.1v1.1h-1.1zM135.0 399.3h1.1v1.1h-1.1zM135.0 408.8h1.1v1.1h-1.1zM135.2 417.9h1.1v1.1h-1.1zM135.1 423.2h1.1v1.1h-1.1zM136.1 358.3h1.1v1.1h-1.1zM136.2 362.2h1.1v1.1h-1.1zM136.3 367.3h1.1v1.1h-1.1zM135.9 369.9h1.1v1.1h-1.1zM136.0 371.3h1.1v1.1h-1.1zM136.2 372.2h1.1v1.1h-1.1zM135.8 385.3h1.1v1.1h-1.1zM135.7 398.2h1.1v1.1h-1.1zM135.8 398.9h1.1v1.1h-1.1zM135.7 407.2h1.1v1.1h-1.1zM135.8 414.3h1.1v1.1h-1.1zM135.8 417.3h1.1v1.1h-1.1zM136.3 420.7h1.1v1.1h-1.1zM135.8 421.8h1.1v1.1h-1.1zM136.7 365.0h1.1v1.1h-1.1zM136.9 381.8h1.1v1.1h-1.1zM137.3 387.8h1.1v1.1h-1.1zM137.2 398.2h1.1v1.1h-1.1zM138.3 366.3h1.1v1.1h-1.1zM137.9 378.8h1.1v1.1h-1.1zM137.8 383.0h1.1v1.1h-1.1zM138.2 388.2h1.1v1.1h-1.1zM137.9 400.9h1.1v1.1h-1.1zM138.1 429.0h1.1v1.1h-1.1zM139.0 423.1h1.1v1.1h-1.1zM139.9 355.1h1.1v1.1h-1.1zM140.3 360.2h1.1v1.1h-1.1zM139.7 362.7h1.1v1.1h-1.1zM139.7 374.9h1.1v1.1h-1.1zM139.8 377.0h1.1v1.1h-1.1zM140.2 383.1h1.1v1.1h-1.1zM140.2 385.0h1.1v1.1h-1.1zM140.3 388.8h1.1v1.1h-1.1zM140.1 393.3h1.1v1.1h-1.1zM139.7 394.9h1.1v1.1h-1.1zM140.0 412.3h1.1v1.1h-1.1zM140.9 381.2h1.1v1.1h-1.1zM140.7 383.0h1.1v1.1h-1.1zM141.1 392.7h1.1v1.1h-1.1zM140.9 405.0h1.1v1.1h-1.1zM142.1 358.3h1.1v1.1h-1.1zM141.8 367.0h1.1v1.1h-1.1zM141.8 370.9h1.1v1.1h-1.1zM142.0 377.1h1.1v1.1h-1.1zM142.2 388.7h1.1v1.1h-1.1zM142.2 405.9h1.1v1.1h-1.1zM142.2 408.1h1.1v1.1h-1.1zM143.0 363.9h1.1v1.1h-1.1zM143.3 369.3h1.1v1.1h-1.1zM142.8 389.9h1.1v1.1h-1.1zM143.1 393.1h1.1v1.1h-1.1zM143.1 398.0h1.1v1.1h-1.1zM143.8 368.8h1.1v1.1h-1.1zM144.0 387.8h1.1v1.1h-1.1zM144.2 392.0h1.1v1.1h-1.1zM143.7 406.7h1.1v1.1h-1.1zM144.2 419.2h1.1v1.1h-1.1zM145.1 387.3h1.1v1.1h-1.1zM145.1 392.2h1.1v1.1h-1.1zM146.2 357.2h1.1v1.1h-1.1zM145.8 385.0h1.1v1.1h-1.1zM145.9 391.1h1.1v1.1h-1.1zM146.7 390.8h1.1v1.1h-1.1zM147.8 368.3h1.1v1.1h-1.1zM148.3 400.9h1.1v1.1h-1.1zM148.8 378.8h1.1v1.1h-1.1zM149.1 400.2h1.1v1.1h-1.1zM150.1 388.0h1.1v1.1h-1.1zM150.0 406.0h1.1v1.1h-1.1zM150.0 407.2h1.1v1.1h-1.1zM154.2 365.2h1.1v1.1h-1.1zM154.1 387.7h1.1v1.1h-1.1zM156.1 341.0h1.1v1.1h-1.1zM156.3 362.3h1.1v1.1h-1.1zM156.3 387.3h1.1v1.1h-1.1zM158.2 342.3h1.1v1.1h-1.1zM158.0 398.8h1.1v1.1h-1.1zM159.3 343.9h1.1v1.1h-1.1zM159.2 391.0h1.1v1.1h-1.1zM160.9 339.9h1.1v1.1h-1.1zM161.1 387.0h1.1v1.1h-1.1zM161.2 389.1h1.1v1.1h-1.1zM161.7 338.2h1.1v1.1h-1.1zM162.0 340.0h1.1v1.1h-1.1zM161.9 388.2h1.1v1.1h-1.1zM161.8 388.7h1.1v1.1h-1.1zM162.2 389.9h1.1v1.1h-1.1zM163.1 386.2h1.1v1.1h-1.1zM163.2 387.2h1.1v1.1h-1.1zM162.8 389.7h1.1v1.1h-1.1zM164.3 338.0h1.1v1.1h-1.1zM164.0 389.7h1.1v1.1h-1.1zM163.7 392.3h1.1v1.1h-1.1zM164.0 393.1h1.1v1.1h-1.1zM165.1 339.3h1.1v1.1h-1.1zM164.8 340.2h1.1v1.1h-1.1zM164.7 383.8h1.1v1.1h-1.1zM164.7 385.1h1.1v1.1h-1.1zM165.2 388.9h1.1v1.1h-1.1zM164.7 390.9h1.1v1.1h-1.1zM164.7 392.3h1.1v1.1h-1.1zM164.8 392.8h1.1v1.1h-1.1zM166.0 339.8h1.1v1.1h-1.1zM166.1 383.7h1.1v1.1h-1.1zM166.2 385.0h1.1v1.1h-1.1zM166.1 386.8h1.1v1.1h-1.1zM165.9 389.9h1.1v1.1h-1.1zM167.3 335.2h1.1v1.1h-1.1zM167.0 339.0h1.1v1.1h-1.1zM166.9 382.9h1.1v1.1h-1.1zM167.3 383.7h1.1v1.1h-1.1zM167.0 384.9h1.1v1.1h-1.1zM167.3 386.8h1.1v1.1h-1.1zM166.8 388.1h1.1v1.1h-1.1zM167.0 389.1h1.1v1.1h-1.1zM167.0 390.2h1.1v1.1h-1.1zM167.8 343.1h1.1v1.1h-1.1zM168.1 382.0h1.1v1.1h-1.1zM168.2 386.3h1.1v1.1h-1.1zM168.2 386.8h1.1v1.1h-1.1zM168.2 388.2h1.1v1.1h-1.1zM169.2 383.7h1.1v1.1h-1.1zM168.8 387.7h1.1v1.1h-1.1zM170.3 382.1h1.1v1.1h-1.1zM169.7 383.9h1.1v1.1h-1.1zM170.0 387.0h1.1v1.1h-1.1zM170.2 389.9h1.1v1.1h-1.1zM170.8 338.0h1.1v1.1h-1.1zM170.9 343.0h1.1v1.1h-1.1zM170.9 379.2h1.1v1.1h-1.1zM171.0 379.7h1.1v1.1h-1.1zM171.0 380.7h1.1v1.1h-1.1zM171.0 385.3h1.1v1.1h-1.1zM171.2 385.9h1.1v1.1h-1.1zM171.0 386.9h1.1v1.1h-1.1zM171.3 388.2h1.1v1.1h-1.1zM171.8 342.2h1.1v1.1h-1.1zM172.1 377.7h1.1v1.1h-1.1zM171.7 378.9h1.1v1.1h-1.1zM171.7 382.3h1.1v1.1h-1.1zM172.3 382.8h1.1v1.1h-1.1zM171.9 384.1h1.1v1.1h-1.1zM172.1 385.2h1.1v1.1h-1.1zM173.3 335.2h1.1v1.1h-1.1zM173.0 337.7h1.1v1.1h-1.1zM172.8 340.1h1.1v1.1h-1.1zM172.7 381.3h1.1v1.1h-1.1zM172.7 382.0h1.1v1.1h-1.1zM173.3 382.8h1.1v1.1h-1.1zM174.3 335.7h1.1v1.1h-1.1zM173.8 338.9h1.1v1.1h-1.1zM173.8 380.0h1.1v1.1h-1.1zM174.2 380.8h1.1v1.1h-1.1zM173.8 384.3h1.1v1.1h-1.1zM175.1 337.7h1.1v1.1h-1.1zM174.7 340.2h1.1v1.1h-1.1zM175.1 342.1h1.1v1.1h-1.1zM175.1 376.9h1.1v1.1h-1.1zM175.3 377.8h1.1v1.1h-1.1zM174.7 379.7h1.1v1.1h-1.1zM174.7 384.7h1.1v1.1h-1.1zM176.2 348.3h1.1v1.1h-1.1zM175.7 375.3h1.1v1.1h-1.1zM176.0 375.7h1.1v1.1h-1.1zM176.2 376.7h1.1v1.1h-1.1zM177.2 335.8h1.1v1.1h-1.1zM176.9 340.9h1.1v1.1h-1.1zM176.7 346.3h1.1v1.1h-1.1zM177.1 374.7h1.1v1.1h-1.1zM176.7 376.2h1.1v1.1h-1.1zM177.3 377.1h1.1v1.1h-1.1zM176.8 378.3h1.1v1.1h-1.1zM177.3 379.2h1.1v1.1h-1.1zM177.0 380.8h1.1v1.1h-1.1zM178.2 338.9h1.1v1.1h-1.1zM178.2 341.7h1.1v1.1h-1.1zM178.3 343.3h1.1v1.1h-1.1zM178.0 352.7h1.1v1.1h-1.1zM178.3 372.8h1.1v1.1h-1.1zM178.0 375.1h1.1v1.1h-1.1zM178.1 382.2h1.1v1.1h-1.1zM178.8 338.7h1.1v1.1h-1.1zM179.1 340.1h1.1v1.1h-1.1zM179.2 341.3h1.1v1.1h-1.1zM178.8 373.9h1.1v1.1h-1.1zM179.3 374.9h1.1v1.1h-1.1zM179.3 375.9h1.1v1.1h-1.1zM178.7 378.3h1.1v1.1h-1.1zM178.9 378.7h1.1v1.1h-1.1zM179.9 341.2h1.1v1.1h-1.1zM180.1 346.1h1.1v1.1h-1.1zM179.7 370.7h1.1v1.1h-1.1zM179.7 372.0h1.1v1.1h-1.1zM179.7 374.9h1.1v1.1h-1.1zM179.8 376.9h1.1v1.1h-1.1zM181.0 335.2h1.1v1.1h-1.1zM180.9 337.3h1.1v1.1h-1.1zM180.7 338.3h1.1v1.1h-1.1zM180.9 341.7h1.1v1.1h-1.1zM181.0 350.3h1.1v1.1h-1.1zM181.1 372.8h1.1v1.1h-1.1zM181.2 374.0h1.1v1.1h-1.1zM180.9 375.8h1.1v1.1h-1.1zM180.9 377.7h1.1v1.1h-1.1zM182.1 340.1h1.1v1.1h-1.1zM182.0 340.7h1.1v1.1h-1.1zM182.2 350.3h1.1v1.1h-1.1zM182.0 370.1h1.1v1.1h-1.1zM181.8 371.0h1.1v1.1h-1.1zM181.8 378.0h1.1v1.1h-1.1zM183.1 348.1h1.1v1.1h-1.1zM183.1 371.1h1.1v1.1h-1.1zM182.7 371.8h1.1v1.1h-1.1zM183.0 373.0h1.1v1.1h-1.1zM183.3 374.3h1.1v1.1h-1.1zM183.2 375.0h1.1v1.1h-1.1zM184.1 340.3h1.1v1.1h-1.1zM184.0 348.0h1.1v1.1h-1.1zM183.8 367.7h1.1v1.1h-1.1zM183.8 371.3h1.1v1.1h-1.1zM185.0 342.2h1.1v1.1h-1.1zM184.7 365.9h1.1v1.1h-1.1zM184.7 367.9h1.1v1.1h-1.1zM185.3 369.0h1.1v1.1h-1.1zM184.7 369.7h1.1v1.1h-1.1zM186.0 336.7h1.1v1.1h-1.1zM185.8 365.9h1.1v1.1h-1.1zM185.8 367.2h1.1v1.1h-1.1zM186.0 368.0h1.1v1.1h-1.1zM186.0 369.3h1.1v1.1h-1.1zM187.1 366.0h1.1v1.1h-1.1zM186.7 367.0h1.1v1.1h-1.1zM186.8 367.8h1.1v1.1h-1.1zM187.1 369.9h1.1v1.1h-1.1zM187.7 342.3h1.1v1.1h-1.1zM188.1 351.0h1.1v1.1h-1.1zM188.3 363.8h1.1v1.1h-1.1zM187.8 365.9h1.1v1.1h-1.1zM187.8 367.0h1.1v1.1h-1.1zM188.3 368.0h1.1v1.1h-1.1zM188.3 369.0h1.1v1.1h-1.1zM189.0 336.1h1.1v1.1h-1.1zM189.3 346.8h1.1v1.1h-1.1zM188.8 364.8h1.1v1.1h-1.1zM188.7 365.7h1.1v1.1h-1.1zM189.3 366.8h1.1v1.1h-1.1zM188.9 367.8h1.1v1.1h-1.1zM190.0 340.3h1.1v1.1h-1.1zM190.2 365.2h1.1v1.1h-1.1zM190.1 365.9h1.1v1.1h-1.1zM190.3 366.8h1.1v1.1h-1.1zM191.1 338.0h1.1v1.1h-1.1zM194.0 344.1h1.1v1.1h-1.1z" fill="#1b1b1b"/>
<path d="M78.00 346.30H238.00" stroke="#e3848e" stroke-width="1.7" fill="none"/>
<path d="M164.90 291.30V439.70" stroke="#d9505f" stroke-width="1.25" fill="none"/>
<path d="M73.50 439.50H78.00M78.50 439.70V444.00M73.50 432.50H78.00M85.50 439.70V444.00M73.50 428.50H78.00M89.50 439.70V444.00M73.50 426.50H78.00M92.50 439.70V444.00M73.50 423.50H78.00M95.50 439.70V444.00M73.50 421.50H78.00M97.50 439.70V444.00M73.50 420.50H78.00M98.50 439.70V444.00M73.50 419.50H78.00M100.50 439.70V444.00M73.50 417.50H78.00M101.50 439.70V444.00M73.50 416.50H78.00M102.50 439.70V444.00M73.50 409.50H78.00M110.50 439.70V444.00M73.50 405.50H78.00M115.50 439.70V444.00M73.50 402.50H78.00M118.50 439.70V444.00M73.50 400.50H78.00M120.50 439.70V444.00M73.50 398.50H78.00M122.50 439.70V444.00M73.50 396.50H78.00M124.50 439.70V444.00M73.50 395.50H78.00M126.50 439.70V444.00M73.50 393.50H78.00M127.50 439.70V444.00M73.50 392.50H78.00M128.50 439.70V444.00M73.50 385.50H78.00M136.50 439.70V444.00M73.50 381.50H78.00M140.50 439.70V444.00M73.50 378.50H78.00M144.50 439.70V444.00M73.50 376.50H78.00M146.50 439.70V444.00M73.50 374.50H78.00M148.50 439.70V444.00M73.50 372.50H78.00M150.50 439.70V444.00M73.50 371.50H78.00M151.50 439.70V444.00M73.50 370.50H78.00M153.50 439.70V444.00M73.50 369.50H78.00M154.50 439.70V444.00M73.50 362.50H78.00M162.50 439.70V444.00M73.50 358.50H78.00M167.50 439.70V444.00M73.50 355.50H78.00M170.50 439.70V444.00M73.50 353.50H78.00M173.50 439.70V444.00M73.50 351.50H78.00M175.50 439.70V444.00M73.50 349.50H78.00M176.50 439.70V444.00M73.50 348.50H78.00M178.50 439.70V444.00M73.50 347.50H78.00M179.50 439.70V444.00M73.50 346.50H78.00M181.50 439.70V444.00M73.50 338.50H78.00M188.50 439.70V444.00M73.50 333.50H78.00M193.50 439.70V444.00M73.50 330.50H78.00M196.50 439.70V444.00M73.50 328.50H78.00M198.50 439.70V444.00M73.50 326.50H78.00M200.50 439.70V444.00M73.50 324.50H78.00M202.50 439.70V444.00M73.50 323.50H78.00M203.50 439.70V444.00M73.50 321.50H78.00M205.50 439.70V444.00M73.50 320.50H78.00M206.50 439.70V444.00M73.50 313.50H78.00M214.50 439.70V444.00M73.50 309.50H78.00M218.50 439.70V444.00M73.50 307.50H78.00M221.50 439.70V444.00M73.50 304.50H78.00M224.50 439.70V444.00M73.50 303.50H78.00M226.50 439.70V444.00M73.50 301.50H78.00M228.50 439.70V444.00M73.50 300.50H78.00M229.50 439.70V444.00M73.50 299.50H78.00M230.50 439.70V444.00M73.50 298.50H78.00M232.50 439.70V444.00M73.50 291.30H78.00M238.00 439.70V444.00" stroke="#111" stroke-width="1" fill="none"/>
<rect x="78.00" y="291.30" width="160.00" height="148.40" fill="none" stroke="#000" stroke-width="1.4"/>
<text x="10.50" y="268.80" font-size="15.4" fill="#1a1a1b" textLength="8.90" lengthAdjust="spacingAndGlyphs">C</text>
<rect x="77.70" y="273.30" width="36.9" height="12.7" rx="6.35" fill="#adabab"/>
<text x="84.40" y="283.30" font-size="10.4" fill="#1e1e1e" textLength="24.00" lengthAdjust="spacingAndGlyphs" class="k">GATE</text>
<text x="120.65" y="283.10" font-size="10.2" fill="#1e1e1e" textLength="52.40" lengthAdjust="spacingAndGlyphs" class="k">[No Gating]</text>
<text x="65.00" y="442.10" font-size="10.6" fill="#1e1e1e" text-anchor="end" textLength="11.20" lengthAdjust="spacingAndGlyphs" class="k">10</text>
<text x="64.30" y="437.60" font-size="9.8" fill="#1e1e1e" textLength="5.00" lengthAdjust="spacingAndGlyphs" class="k">1</text>
<text x="65.00" y="420.10" font-size="10.6" fill="#1e1e1e" text-anchor="end" textLength="11.20" lengthAdjust="spacingAndGlyphs" class="k">10</text>
<text x="64.30" y="415.60" font-size="9.8" fill="#1e1e1e" textLength="5.00" lengthAdjust="spacingAndGlyphs" class="k">2</text>
<text x="65.00" y="396.20" font-size="10.6" fill="#1e1e1e" text-anchor="end" textLength="11.20" lengthAdjust="spacingAndGlyphs" class="k">10</text>
<text x="64.30" y="391.70" font-size="9.8" fill="#1e1e1e" textLength="5.00" lengthAdjust="spacingAndGlyphs" class="k">3</text>
<text x="65.00" y="372.70" font-size="10.6" fill="#1e1e1e" text-anchor="end" textLength="11.20" lengthAdjust="spacingAndGlyphs" class="k">10</text>
<text x="64.30" y="368.20" font-size="9.8" fill="#1e1e1e" textLength="5.00" lengthAdjust="spacingAndGlyphs" class="k">4</text>
<text x="65.00" y="349.50" font-size="10.6" fill="#1e1e1e" text-anchor="end" textLength="11.20" lengthAdjust="spacingAndGlyphs" class="k">10</text>
<text x="64.30" y="345.00" font-size="9.8" fill="#1e1e1e" textLength="5.00" lengthAdjust="spacingAndGlyphs" class="k">5</text>
<text x="65.00" y="325.70" font-size="10.6" fill="#1e1e1e" text-anchor="end" textLength="11.20" lengthAdjust="spacingAndGlyphs" class="k">10</text>
<text x="64.30" y="321.20" font-size="9.8" fill="#1e1e1e" textLength="5.00" lengthAdjust="spacingAndGlyphs" class="k">6</text>
<text x="59.00" y="294.60" font-size="10.6" fill="#1e1e1e" text-anchor="end" textLength="11.60" lengthAdjust="spacingAndGlyphs" class="k">10</text>
<text x="58.30" y="290.90" font-size="9.8" fill="#1e1e1e" textLength="11.00" lengthAdjust="spacingAndGlyphs" class="k">7.2</text>
<text x="81.53" y="458.00" font-size="10.6" fill="#1e1e1e" text-anchor="end" textLength="11.40" lengthAdjust="spacingAndGlyphs" class="k">10</text>
<text x="81.53" y="454.10" font-size="9.8" fill="#1e1e1e" textLength="5.00" lengthAdjust="spacingAndGlyphs" class="k">1</text>
<text x="104.86" y="458.00" font-size="10.6" fill="#1e1e1e" text-anchor="end" textLength="11.40" lengthAdjust="spacingAndGlyphs" class="k">10</text>
<text x="104.86" y="454.10" font-size="9.8" fill="#1e1e1e" textLength="5.00" lengthAdjust="spacingAndGlyphs" class="k">2</text>
<text x="130.72" y="458.00" font-size="10.6" fill="#1e1e1e" text-anchor="end" textLength="11.40" lengthAdjust="spacingAndGlyphs" class="k">10</text>
<text x="130.72" y="454.10" font-size="9.8" fill="#1e1e1e" textLength="5.00" lengthAdjust="spacingAndGlyphs" class="k">3</text>
<text x="156.99" y="458.00" font-size="10.6" fill="#1e1e1e" text-anchor="end" textLength="11.40" lengthAdjust="spacingAndGlyphs" class="k">10</text>
<text x="156.99" y="454.10" font-size="9.8" fill="#1e1e1e" textLength="5.00" lengthAdjust="spacingAndGlyphs" class="k">4</text>
<text x="181.83" y="458.00" font-size="10.6" fill="#1e1e1e" text-anchor="end" textLength="11.40" lengthAdjust="spacingAndGlyphs" class="k">10</text>
<text x="181.83" y="454.10" font-size="9.8" fill="#1e1e1e" textLength="5.00" lengthAdjust="spacingAndGlyphs" class="k">5</text>
<text x="207.49" y="458.00" font-size="10.6" fill="#1e1e1e" text-anchor="end" textLength="11.40" lengthAdjust="spacingAndGlyphs" class="k">10</text>
<text x="207.49" y="454.10" font-size="9.8" fill="#1e1e1e" textLength="5.00" lengthAdjust="spacingAndGlyphs" class="k">6</text>
<text x="238.70" y="458.00" font-size="10.6" fill="#1e1e1e" text-anchor="end" textLength="11.20" lengthAdjust="spacingAndGlyphs" class="k">10</text>
<text x="238.80" y="454.40" font-size="9.8" fill="#1e1e1e" textLength="10.60" lengthAdjust="spacingAndGlyphs" class="k">7.2</text>
<text x="0" y="0" font-size="13" fill="#1e1e1e" text-anchor="middle" textLength="31.2" lengthAdjust="spacingAndGlyphs" class="k" transform="translate(37.10,364.90) rotate(-90)">FL2-A</text>
<text x="157.90" y="477.00" font-size="13" fill="#1e1e1e" text-anchor="middle" textLength="31.20" lengthAdjust="spacingAndGlyphs" class="k">FL1-A</text>
<svg x="78.00" y="291.30" width="160.00" height="148.40" overflow="hidden">
<text x="0.90" y="9.40" font-size="11" fill="#d9505f" textLength="32.90" lengthAdjust="spacingAndGlyphs">Q4-UL</text>
<text x="1.80" y="20.10" font-size="10.9" fill="#e2262e" font-weight="bold" textLength="30.20" lengthAdjust="spacingAndGlyphs">0.02%</text>
<text x="159.70" y="9.30" font-size="11" fill="#d9505f" text-anchor="end" textLength="35.00" lengthAdjust="spacingAndGlyphs">Q4-UR</text>
<text x="124.80" y="19.00" font-size="10.2" fill="#d9505f" textLength="24.80" lengthAdjust="spacingAndGlyphs">0.1%</text>
<text x="127.00" y="139.30" font-size="11" fill="#d9505f" textLength="32.40" lengthAdjust="spacingAndGlyphs">Q4-LR</text>
<text x="127.00" y="148.60" font-size="10.2" fill="#d9505f" textLength="24.70" lengthAdjust="spacingAndGlyphs">0.7%</text>
<text x="0.70" y="139.60" font-size="11" fill="#e0404f" textLength="31.10" lengthAdjust="spacingAndGlyphs" stroke="#ffffff" stroke-opacity="0.3" stroke-width="1" paint-order="stroke">Q4-LL</text>
<text x="0.70" y="149.00" font-size="10.2" fill="#e0404f" textLength="30.00" lengthAdjust="spacingAndGlyphs" stroke="#ffffff" stroke-opacity="0.3" stroke-width="1" paint-order="stroke">99.2%</text>
</svg>
<text x="175.80" y="412.90" font-size="10.0" fill="#1e1e1e" textLength="45.20" lengthAdjust="spacingAndGlyphs" class="k">GloFli fish</text>
<path d="M331.4 401.5L337.7 400.4L345.4 398.8L353.0 396.5L360.8 394.2L368.5 391.2L376.0 388.0L380.8 386.5L385.4 388.8L387.0 393.5L387.0 405.8L383.8 415.0L379.2 424.2L377.7 433.5L376.0 439.7L331.4 439.7Z" fill="#1b1b1b"/>
<path d="M445.14 365.19L449.19 362.11L458.37 353.44L463.51 347.84L462.69 346.96L456.73 351.68L447.41 360.21L444.06 364.01Z" fill="#1b1b1b"/>
<path d="M332 296h1v1h-1zM332 297h1v1h-1zM332 299h1v1h-1zM332 300h1v1h-1zM332 303h1v1h-1zM332 305h1v1h-1zM332 306h1v1h-1zM332 309h1v1h-1zM332 313h1v1h-1zM332 317h1v1h-1zM332 319h1v1h-1zM332 330h1v1h-1zM332 334h1v1h-1zM332 335h1v1h-1zM332 337h1v1h-1zM332 338h1v1h-1zM332 339h1v1h-1zM332 340h1v1h-1zM332 341h1v1h-1zM332 342h1v1h-1zM332 343h1v1h-1zM332 344h1v1h-1zM332 351h1v1h-1zM332 352h1v1h-1zM332 354h1v1h-1zM332 357h1v1h-1zM332 359h1v1h-1zM332 365h1v1h-1zM332 368h1v1h-1zM332 369h1v1h-1zM332 370h1v1h-1zM332 371h1v1h-1zM332 378h1v1h-1zM332 379h1v1h-1zM332 380h1v1h-1zM332 381h1v1h-1zM332 392h1v1h-1zM332 393h1v1h-1zM332 399h1v1h-1zM332 401h1v1h-1zM332 403h1v1h-1zM332 405h1v1h-1zM332 410h1v1h-1zM332 411h1v1h-1zM333 415h2v1h-2zM335 416h1v1h-1zM334 418h1v1h-1zM337 418h1v1h-1zM333 419h5v1h-5zM336 420h1v1h-1zM338 420h1v1h-1zM333 421h1v1h-1zM338 421h2v1h-2zM333 422h1v1h-1zM335 422h2v1h-2zM338 422h2v1h-2zM332 423h2v1h-2zM336 423h1v1h-1zM338 423h1v1h-1zM340 423h1v1h-1zM332 424h2v1h-2zM335 424h1v1h-1zM336 425h2v1h-2zM332 426h1v1h-1zM334 426h1v1h-1zM340 426h1v1h-1zM334 427h4v1h-4zM332 428h1v1h-1zM334 428h1v1h-1zM337 428h1v1h-1zM339 428h1v1h-1zM333 429h2v1h-2zM339 429h1v1h-1zM334 430h1v1h-1zM336 430h1v1h-1zM333 431h1v1h-1zM335 431h2v1h-2zM338 431h4v1h-4zM344 431h1v1h-1zM337 432h1v1h-1zM345 432h1v1h-1zM332 433h2v1h-2zM335 433h1v1h-1zM343 433h1v1h-1zM335 434h2v1h-2zM339 434h3v1h-3zM343 434h1v1h-1zM333 435h1v1h-1zM336 435h1v1h-1zM339 435h1v1h-1zM342 435h1v1h-1zM333 436h5v1h-5zM341 436h1v1h-1zM344 436h3v1h-3zM336 437h1v1h-1zM338 437h1v1h-1zM340 437h1v1h-1zM346 437h1v1h-1zM332 438h4v1h-4zM337 438h2v1h-2zM340 438h1v1h-1zM342 438h4v1h-4z" fill="#f4f4f4" shape-rendering="crispEdges"/>
<path d="M332.4 433.6H376.5M332.4 438.4H376.5" stroke="#9a9a9a" stroke-width="0.9"/>
<path d="M333.0 380.9h1.1v1.1h-1.1zM333.2 394.1h1.1v1.1h-1.1zM333.3 399.8h1.1v1.1h-1.1zM333.9 385.7h1.1v1.1h-1.1zM334.3 395.2h1.1v1.1h-1.1zM333.7 396.8h1.1v1.1h-1.1zM333.7 400.3h1.1v1.1h-1.1zM335.3 387.8h1.1v1.1h-1.1zM335.1 390.7h1.1v1.1h-1.1zM334.9 394.2h1.1v1.1h-1.1zM335.0 396.8h1.1v1.1h-1.1zM335.1 399.0h1.1v1.1h-1.1zM334.8 400.0h1.1v1.1h-1.1zM335.8 394.2h1.1v1.1h-1.1zM336.2 395.0h1.1v1.1h-1.1zM336.0 397.1h1.1v1.1h-1.1zM335.8 400.0h1.1v1.1h-1.1zM337.2 393.0h1.1v1.1h-1.1zM336.7 394.3h1.1v1.1h-1.1zM337.1 397.9h1.1v1.1h-1.1zM336.8 399.1h1.1v1.1h-1.1zM337.1 400.3h1.1v1.1h-1.1zM338.0 393.0h1.1v1.1h-1.1zM338.0 395.1h1.1v1.1h-1.1zM337.7 397.8h1.1v1.1h-1.1zM338.3 398.8h1.1v1.1h-1.1zM337.7 399.8h1.1v1.1h-1.1zM339.3 389.1h1.1v1.1h-1.1zM339.1 389.8h1.1v1.1h-1.1zM339.2 397.3h1.1v1.1h-1.1zM340.1 395.8h1.1v1.1h-1.1zM340.2 396.9h1.1v1.1h-1.1zM339.8 398.8h1.1v1.1h-1.1zM341.1 384.0h1.1v1.1h-1.1zM340.7 392.7h1.1v1.1h-1.1zM341.0 394.0h1.1v1.1h-1.1zM341.1 397.7h1.1v1.1h-1.1zM340.9 398.8h1.1v1.1h-1.1zM342.0 379.2h1.1v1.1h-1.1zM341.9 389.1h1.1v1.1h-1.1zM341.8 391.7h1.1v1.1h-1.1zM341.8 393.8h1.1v1.1h-1.1zM342.1 396.2h1.1v1.1h-1.1zM342.0 397.8h1.1v1.1h-1.1zM341.8 399.3h1.1v1.1h-1.1zM342.8 394.9h1.1v1.1h-1.1zM343.2 397.3h1.1v1.1h-1.1zM343.3 397.7h1.1v1.1h-1.1zM344.0 393.7h1.1v1.1h-1.1zM344.2 395.9h1.1v1.1h-1.1zM344.3 396.9h1.1v1.1h-1.1zM345.1 394.7h1.1v1.1h-1.1zM345.1 397.0h1.1v1.1h-1.1zM344.8 398.1h1.1v1.1h-1.1zM346.1 391.1h1.1v1.1h-1.1zM346.3 393.3h1.1v1.1h-1.1zM346.0 397.2h1.1v1.1h-1.1zM346.0 398.2h1.1v1.1h-1.1zM347.3 377.9h1.1v1.1h-1.1zM347.0 389.8h1.1v1.1h-1.1zM346.7 391.0h1.1v1.1h-1.1zM347.3 392.3h1.1v1.1h-1.1zM346.8 395.1h1.1v1.1h-1.1zM347.1 396.3h1.1v1.1h-1.1zM347.0 397.0h1.1v1.1h-1.1zM348.3 387.1h1.1v1.1h-1.1zM348.3 394.2h1.1v1.1h-1.1zM348.3 395.2h1.1v1.1h-1.1zM348.2 396.1h1.1v1.1h-1.1zM348.2 396.9h1.1v1.1h-1.1zM349.1 384.8h1.1v1.1h-1.1zM349.0 392.9h1.1v1.1h-1.1zM348.8 395.9h1.1v1.1h-1.1zM348.7 397.0h1.1v1.1h-1.1zM349.8 386.0h1.1v1.1h-1.1zM350.3 391.1h1.1v1.1h-1.1zM349.8 394.0h1.1v1.1h-1.1zM350.1 394.9h1.1v1.1h-1.1zM350.0 395.7h1.1v1.1h-1.1zM349.8 397.1h1.1v1.1h-1.1zM351.1 386.8h1.1v1.1h-1.1zM351.0 393.3h1.1v1.1h-1.1zM350.9 394.7h1.1v1.1h-1.1zM350.8 395.9h1.1v1.1h-1.1zM351.9 387.8h1.1v1.1h-1.1zM352.2 394.8h1.1v1.1h-1.1zM351.8 395.7h1.1v1.1h-1.1zM353.1 384.8h1.1v1.1h-1.1zM352.9 391.9h1.1v1.1h-1.1zM352.8 394.9h1.1v1.1h-1.1zM353.2 396.2h1.1v1.1h-1.1zM354.1 389.3h1.1v1.1h-1.1zM354.0 389.8h1.1v1.1h-1.1zM354.2 391.2h1.1v1.1h-1.1zM353.7 392.0h1.1v1.1h-1.1zM354.3 393.1h1.1v1.1h-1.1zM353.9 395.3h1.1v1.1h-1.1zM355.2 391.9h1.1v1.1h-1.1zM355.2 394.2h1.1v1.1h-1.1zM355.1 394.8h1.1v1.1h-1.1zM356.1 389.3h1.1v1.1h-1.1zM355.7 390.2h1.1v1.1h-1.1zM356.0 391.1h1.1v1.1h-1.1zM356.0 391.8h1.1v1.1h-1.1zM356.0 393.1h1.1v1.1h-1.1zM355.7 393.9h1.1v1.1h-1.1zM355.8 395.0h1.1v1.1h-1.1zM357.0 387.8h1.1v1.1h-1.1zM356.9 392.1h1.1v1.1h-1.1zM357.3 392.8h1.1v1.1h-1.1zM356.8 394.0h1.1v1.1h-1.1zM358.0 382.7h1.1v1.1h-1.1zM357.7 392.3h1.1v1.1h-1.1zM357.8 392.7h1.1v1.1h-1.1zM357.7 393.7h1.1v1.1h-1.1zM358.8 383.2h1.1v1.1h-1.1zM359.3 384.0h1.1v1.1h-1.1zM359.1 391.8h1.1v1.1h-1.1zM359.0 392.7h1.1v1.1h-1.1zM359.2 393.8h1.1v1.1h-1.1zM360.3 382.1h1.1v1.1h-1.1zM360.0 384.1h1.1v1.1h-1.1zM359.8 392.1h1.1v1.1h-1.1zM359.7 393.3h1.1v1.1h-1.1zM360.1 394.0h1.1v1.1h-1.1zM360.7 389.2h1.1v1.1h-1.1zM361.0 391.2h1.1v1.1h-1.1zM361.1 392.1h1.1v1.1h-1.1zM360.7 393.1h1.1v1.1h-1.1zM362.0 386.8h1.1v1.1h-1.1zM361.8 391.3h1.1v1.1h-1.1zM361.8 391.7h1.1v1.1h-1.1zM362.0 393.2h1.1v1.1h-1.1zM363.1 378.8h1.1v1.1h-1.1zM363.1 382.3h1.1v1.1h-1.1zM362.9 384.0h1.1v1.1h-1.1zM362.9 388.3h1.1v1.1h-1.1zM362.9 391.8h1.1v1.1h-1.1zM364.3 390.9h1.1v1.1h-1.1zM363.9 391.9h1.1v1.1h-1.1zM364.8 339.3h1.1v1.1h-1.1zM365.3 378.2h1.1v1.1h-1.1zM365.3 381.3h1.1v1.1h-1.1zM364.9 386.8h1.1v1.1h-1.1zM365.0 389.2h1.1v1.1h-1.1zM365.1 390.9h1.1v1.1h-1.1zM365.2 391.9h1.1v1.1h-1.1zM365.7 382.9h1.1v1.1h-1.1zM365.7 385.7h1.1v1.1h-1.1zM366.3 389.3h1.1v1.1h-1.1zM366.3 389.9h1.1v1.1h-1.1zM365.8 391.3h1.1v1.1h-1.1zM366.7 375.9h1.1v1.1h-1.1zM367.2 380.7h1.1v1.1h-1.1zM367.0 390.2h1.1v1.1h-1.1zM367.0 390.7h1.1v1.1h-1.1zM368.1 381.2h1.1v1.1h-1.1zM367.7 385.1h1.1v1.1h-1.1zM368.0 389.2h1.1v1.1h-1.1zM368.1 390.0h1.1v1.1h-1.1zM367.7 391.2h1.1v1.1h-1.1zM369.0 379.7h1.1v1.1h-1.1zM368.8 382.7h1.1v1.1h-1.1zM368.8 386.2h1.1v1.1h-1.1zM369.2 387.1h1.1v1.1h-1.1zM368.9 387.7h1.1v1.1h-1.1zM368.9 389.9h1.1v1.1h-1.1zM369.8 384.2h1.1v1.1h-1.1zM369.8 385.1h1.1v1.1h-1.1zM369.7 385.8h1.1v1.1h-1.1zM370.3 386.9h1.1v1.1h-1.1zM369.8 389.0h1.1v1.1h-1.1zM370.3 389.8h1.1v1.1h-1.1zM371.1 362.2h1.1v1.1h-1.1zM370.8 372.7h1.1v1.1h-1.1zM371.1 374.1h1.1v1.1h-1.1zM370.7 377.0h1.1v1.1h-1.1zM371.1 381.8h1.1v1.1h-1.1zM370.9 385.0h1.1v1.1h-1.1zM371.0 385.8h1.1v1.1h-1.1zM371.2 387.9h1.1v1.1h-1.1zM370.8 389.1h1.1v1.1h-1.1zM371.8 385.2h1.1v1.1h-1.1zM372.1 388.1h1.1v1.1h-1.1zM372.0 389.0h1.1v1.1h-1.1zM372.9 380.9h1.1v1.1h-1.1zM372.9 385.0h1.1v1.1h-1.1zM372.8 388.1h1.1v1.1h-1.1zM373.9 385.0h1.1v1.1h-1.1zM374.3 387.1h1.1v1.1h-1.1zM374.0 388.0h1.1v1.1h-1.1zM374.3 390.8h1.1v1.1h-1.1zM375.1 385.0h1.1v1.1h-1.1zM374.9 385.8h1.1v1.1h-1.1zM374.8 386.8h1.1v1.1h-1.1zM374.9 388.3h1.1v1.1h-1.1zM375.8 378.1h1.1v1.1h-1.1zM376.3 385.1h1.1v1.1h-1.1zM375.9 385.8h1.1v1.1h-1.1zM375.7 386.8h1.1v1.1h-1.1zM375.7 388.9h1.1v1.1h-1.1zM375.8 436.0h1.1v1.1h-1.1zM375.7 437.3h1.1v1.1h-1.1zM376.0 437.8h1.1v1.1h-1.1zM377.3 376.7h1.1v1.1h-1.1zM377.1 384.7h1.1v1.1h-1.1zM377.1 385.8h1.1v1.1h-1.1zM377.1 387.2h1.1v1.1h-1.1zM377.1 432.0h1.1v1.1h-1.1zM377.2 432.8h1.1v1.1h-1.1zM376.8 434.0h1.1v1.1h-1.1zM377.0 435.2h1.1v1.1h-1.1zM376.8 436.9h1.1v1.1h-1.1zM377.2 438.1h1.1v1.1h-1.1zM378.1 354.1h1.1v1.1h-1.1zM377.7 371.1h1.1v1.1h-1.1zM378.3 379.8h1.1v1.1h-1.1zM377.9 383.2h1.1v1.1h-1.1zM378.0 384.0h1.1v1.1h-1.1zM378.1 385.0h1.1v1.1h-1.1zM378.2 386.1h1.1v1.1h-1.1zM377.7 425.8h1.1v1.1h-1.1zM377.9 427.0h1.1v1.1h-1.1zM377.7 427.7h1.1v1.1h-1.1zM378.3 428.8h1.1v1.1h-1.1zM378.0 430.0h1.1v1.1h-1.1zM378.1 430.7h1.1v1.1h-1.1zM377.7 431.7h1.1v1.1h-1.1zM377.7 432.7h1.1v1.1h-1.1zM378.3 434.2h1.1v1.1h-1.1zM378.0 435.0h1.1v1.1h-1.1zM378.0 438.3h1.1v1.1h-1.1zM378.7 379.3h1.1v1.1h-1.1zM378.9 380.8h1.1v1.1h-1.1zM379.1 385.1h1.1v1.1h-1.1zM379.2 386.2h1.1v1.1h-1.1zM378.7 422.2h1.1v1.1h-1.1zM379.2 423.2h1.1v1.1h-1.1zM379.2 424.1h1.1v1.1h-1.1zM379.2 429.1h1.1v1.1h-1.1zM379.0 430.2h1.1v1.1h-1.1zM379.0 431.3h1.1v1.1h-1.1zM379.1 431.7h1.1v1.1h-1.1zM379.3 433.0h1.1v1.1h-1.1zM379.1 435.3h1.1v1.1h-1.1zM379.1 436.3h1.1v1.1h-1.1zM378.9 436.8h1.1v1.1h-1.1zM379.9 372.8h1.1v1.1h-1.1zM379.7 374.9h1.1v1.1h-1.1zM380.0 381.2h1.1v1.1h-1.1zM380.0 382.0h1.1v1.1h-1.1zM379.9 383.0h1.1v1.1h-1.1zM379.9 384.0h1.1v1.1h-1.1zM380.1 385.8h1.1v1.1h-1.1zM380.0 419.7h1.1v1.1h-1.1zM379.8 420.7h1.1v1.1h-1.1zM380.0 422.2h1.1v1.1h-1.1zM379.9 423.3h1.1v1.1h-1.1zM380.1 423.9h1.1v1.1h-1.1zM379.7 424.9h1.1v1.1h-1.1zM379.7 427.1h1.1v1.1h-1.1zM380.2 437.3h1.1v1.1h-1.1zM380.1 438.3h1.1v1.1h-1.1zM380.8 372.2h1.1v1.1h-1.1zM380.8 382.9h1.1v1.1h-1.1zM381.1 384.0h1.1v1.1h-1.1zM381.3 384.9h1.1v1.1h-1.1zM380.8 386.2h1.1v1.1h-1.1zM380.9 418.0h1.1v1.1h-1.1zM380.9 419.0h1.1v1.1h-1.1zM381.2 420.1h1.1v1.1h-1.1zM381.1 421.3h1.1v1.1h-1.1zM380.8 422.0h1.1v1.1h-1.1zM380.9 422.8h1.1v1.1h-1.1zM381.2 423.8h1.1v1.1h-1.1zM380.7 425.0h1.1v1.1h-1.1zM380.7 425.9h1.1v1.1h-1.1zM381.3 427.8h1.1v1.1h-1.1zM381.3 429.2h1.1v1.1h-1.1zM380.9 436.9h1.1v1.1h-1.1zM381.7 355.8h1.1v1.1h-1.1zM382.2 375.8h1.1v1.1h-1.1zM382.3 379.7h1.1v1.1h-1.1zM382.2 383.0h1.1v1.1h-1.1zM382.2 384.3h1.1v1.1h-1.1zM381.8 384.9h1.1v1.1h-1.1zM381.9 386.0h1.1v1.1h-1.1zM382.2 386.9h1.1v1.1h-1.1zM381.9 416.0h1.1v1.1h-1.1zM382.1 416.9h1.1v1.1h-1.1zM382.0 417.7h1.1v1.1h-1.1zM382.3 418.9h1.1v1.1h-1.1zM381.9 419.8h1.1v1.1h-1.1zM382.0 422.3h1.1v1.1h-1.1zM382.2 423.9h1.1v1.1h-1.1zM382.0 425.0h1.1v1.1h-1.1zM382.1 426.0h1.1v1.1h-1.1zM382.0 427.7h1.1v1.1h-1.1zM382.3 430.8h1.1v1.1h-1.1zM381.7 431.7h1.1v1.1h-1.1zM381.7 432.8h1.1v1.1h-1.1zM383.3 381.1h1.1v1.1h-1.1zM383.3 383.7h1.1v1.1h-1.1zM382.7 384.8h1.1v1.1h-1.1zM382.7 385.8h1.1v1.1h-1.1zM382.9 387.2h1.1v1.1h-1.1zM382.7 414.3h1.1v1.1h-1.1zM383.3 415.3h1.1v1.1h-1.1zM383.3 416.1h1.1v1.1h-1.1zM382.8 417.2h1.1v1.1h-1.1zM383.1 418.1h1.1v1.1h-1.1zM382.7 418.8h1.1v1.1h-1.1zM383.1 420.2h1.1v1.1h-1.1zM383.3 420.9h1.1v1.1h-1.1zM383.3 423.1h1.1v1.1h-1.1zM382.9 425.3h1.1v1.1h-1.1zM383.2 427.3h1.1v1.1h-1.1zM383.2 429.2h1.1v1.1h-1.1zM383.2 430.1h1.1v1.1h-1.1zM383.2 430.8h1.1v1.1h-1.1zM383.0 431.9h1.1v1.1h-1.1zM383.2 436.7h1.1v1.1h-1.1zM382.8 437.9h1.1v1.1h-1.1zM384.3 366.3h1.1v1.1h-1.1zM384.3 372.9h1.1v1.1h-1.1zM383.7 376.9h1.1v1.1h-1.1zM383.7 378.2h1.1v1.1h-1.1zM384.3 379.0h1.1v1.1h-1.1zM384.3 379.7h1.1v1.1h-1.1zM384.0 383.2h1.1v1.1h-1.1zM384.3 384.0h1.1v1.1h-1.1zM383.8 384.8h1.1v1.1h-1.1zM383.7 385.9h1.1v1.1h-1.1zM383.7 387.0h1.1v1.1h-1.1zM383.9 388.3h1.1v1.1h-1.1zM384.3 410.9h1.1v1.1h-1.1zM384.3 412.0h1.1v1.1h-1.1zM384.3 412.9h1.1v1.1h-1.1zM384.0 413.7h1.1v1.1h-1.1zM383.8 414.7h1.1v1.1h-1.1zM384.1 417.2h1.1v1.1h-1.1zM384.0 419.1h1.1v1.1h-1.1zM383.7 420.3h1.1v1.1h-1.1zM384.0 423.3h1.1v1.1h-1.1zM383.7 427.8h1.1v1.1h-1.1zM383.9 430.1h1.1v1.1h-1.1zM384.3 431.1h1.1v1.1h-1.1zM384.1 432.2h1.1v1.1h-1.1zM384.1 433.1h1.1v1.1h-1.1zM383.7 435.0h1.1v1.1h-1.1zM384.2 437.9h1.1v1.1h-1.1zM385.2 372.1h1.1v1.1h-1.1zM384.9 374.0h1.1v1.1h-1.1zM384.9 378.1h1.1v1.1h-1.1zM385.3 382.3h1.1v1.1h-1.1zM385.3 382.7h1.1v1.1h-1.1zM385.3 385.2h1.1v1.1h-1.1zM384.9 385.7h1.1v1.1h-1.1zM385.0 389.0h1.1v1.1h-1.1zM385.1 408.0h1.1v1.1h-1.1zM384.8 409.2h1.1v1.1h-1.1zM384.8 409.9h1.1v1.1h-1.1zM385.3 411.2h1.1v1.1h-1.1zM385.1 412.1h1.1v1.1h-1.1zM384.8 413.3h1.1v1.1h-1.1zM385.0 413.7h1.1v1.1h-1.1zM385.3 415.1h1.1v1.1h-1.1zM385.0 415.9h1.1v1.1h-1.1zM385.2 417.0h1.1v1.1h-1.1zM385.1 418.0h1.1v1.1h-1.1zM385.0 420.2h1.1v1.1h-1.1zM385.0 421.0h1.1v1.1h-1.1zM384.7 421.8h1.1v1.1h-1.1zM385.0 422.7h1.1v1.1h-1.1zM385.1 430.8h1.1v1.1h-1.1zM384.7 433.1h1.1v1.1h-1.1zM384.8 435.1h1.1v1.1h-1.1zM384.7 437.0h1.1v1.1h-1.1zM385.1 437.7h1.1v1.1h-1.1zM385.7 367.8h1.1v1.1h-1.1zM386.0 376.1h1.1v1.1h-1.1zM386.3 377.1h1.1v1.1h-1.1zM385.8 379.9h1.1v1.1h-1.1zM386.0 382.1h1.1v1.1h-1.1zM385.7 384.3h1.1v1.1h-1.1zM386.1 385.1h1.1v1.1h-1.1zM385.7 387.0h1.1v1.1h-1.1zM385.9 387.8h1.1v1.1h-1.1zM386.2 388.8h1.1v1.1h-1.1zM386.1 390.7h1.1v1.1h-1.1zM385.8 392.3h1.1v1.1h-1.1zM386.1 405.9h1.1v1.1h-1.1zM386.3 406.9h1.1v1.1h-1.1zM385.7 407.9h1.1v1.1h-1.1zM386.2 408.7h1.1v1.1h-1.1zM386.2 410.2h1.1v1.1h-1.1zM385.7 410.7h1.1v1.1h-1.1zM386.0 412.7h1.1v1.1h-1.1zM386.1 414.1h1.1v1.1h-1.1zM385.9 415.8h1.1v1.1h-1.1zM386.0 416.7h1.1v1.1h-1.1zM385.7 420.0h1.1v1.1h-1.1zM386.3 423.1h1.1v1.1h-1.1zM386.2 426.7h1.1v1.1h-1.1zM386.1 428.2h1.1v1.1h-1.1zM385.8 432.2h1.1v1.1h-1.1zM385.9 437.8h1.1v1.1h-1.1zM387.0 368.3h1.1v1.1h-1.1zM386.7 373.1h1.1v1.1h-1.1zM387.1 375.8h1.1v1.1h-1.1zM386.9 378.2h1.1v1.1h-1.1zM387.0 379.9h1.1v1.1h-1.1zM387.1 381.1h1.1v1.1h-1.1zM387.1 381.7h1.1v1.1h-1.1zM387.2 384.3h1.1v1.1h-1.1zM386.8 384.8h1.1v1.1h-1.1zM387.1 387.0h1.1v1.1h-1.1zM387.0 387.7h1.1v1.1h-1.1zM386.9 389.0h1.1v1.1h-1.1zM386.9 389.9h1.1v1.1h-1.1zM386.8 391.0h1.1v1.1h-1.1zM387.3 392.1h1.1v1.1h-1.1zM387.1 393.3h1.1v1.1h-1.1zM387.1 393.8h1.1v1.1h-1.1zM387.0 394.8h1.1v1.1h-1.1zM386.9 396.3h1.1v1.1h-1.1zM386.8 397.2h1.1v1.1h-1.1zM387.2 397.7h1.1v1.1h-1.1zM386.9 398.9h1.1v1.1h-1.1zM386.8 400.0h1.1v1.1h-1.1zM386.9 401.0h1.1v1.1h-1.1zM387.1 401.7h1.1v1.1h-1.1zM386.7 403.3h1.1v1.1h-1.1zM387.2 403.9h1.1v1.1h-1.1zM387.1 405.1h1.1v1.1h-1.1zM387.1 405.7h1.1v1.1h-1.1zM387.2 407.1h1.1v1.1h-1.1zM386.8 407.8h1.1v1.1h-1.1zM387.0 409.1h1.1v1.1h-1.1zM387.0 410.0h1.1v1.1h-1.1zM387.3 410.7h1.1v1.1h-1.1zM387.1 411.9h1.1v1.1h-1.1zM386.8 412.9h1.1v1.1h-1.1zM386.9 413.7h1.1v1.1h-1.1zM386.7 415.1h1.1v1.1h-1.1zM386.7 416.3h1.1v1.1h-1.1zM387.1 418.2h1.1v1.1h-1.1zM386.9 423.0h1.1v1.1h-1.1zM387.0 426.8h1.1v1.1h-1.1zM387.2 428.9h1.1v1.1h-1.1zM387.2 430.3h1.1v1.1h-1.1zM387.2 433.1h1.1v1.1h-1.1zM387.0 435.1h1.1v1.1h-1.1zM388.0 372.8h1.1v1.1h-1.1zM387.7 376.2h1.1v1.1h-1.1zM388.0 379.1h1.1v1.1h-1.1zM388.2 381.3h1.1v1.1h-1.1zM387.7 383.0h1.1v1.1h-1.1zM388.2 384.3h1.1v1.1h-1.1zM388.2 388.0h1.1v1.1h-1.1zM387.7 388.8h1.1v1.1h-1.1zM387.9 390.3h1.1v1.1h-1.1zM387.7 390.8h1.1v1.1h-1.1zM388.3 392.0h1.1v1.1h-1.1zM387.7 392.9h1.1v1.1h-1.1zM387.9 394.3h1.1v1.1h-1.1zM387.7 395.2h1.1v1.1h-1.1zM388.0 396.1h1.1v1.1h-1.1zM388.1 397.3h1.1v1.1h-1.1zM388.1 397.7h1.1v1.1h-1.1zM388.2 399.0h1.1v1.1h-1.1zM388.2 400.3h1.1v1.1h-1.1zM387.7 401.1h1.1v1.1h-1.1zM388.1 402.3h1.1v1.1h-1.1zM387.9 403.2h1.1v1.1h-1.1zM387.7 404.2h1.1v1.1h-1.1zM388.1 405.2h1.1v1.1h-1.1zM387.7 406.0h1.1v1.1h-1.1zM387.8 407.2h1.1v1.1h-1.1zM387.7 408.1h1.1v1.1h-1.1zM388.0 409.1h1.1v1.1h-1.1zM388.3 410.3h1.1v1.1h-1.1zM388.3 411.7h1.1v1.1h-1.1zM387.7 413.8h1.1v1.1h-1.1zM388.3 415.7h1.1v1.1h-1.1zM388.1 425.2h1.1v1.1h-1.1zM389.0 369.0h1.1v1.1h-1.1zM389.2 374.7h1.1v1.1h-1.1zM389.0 376.3h1.1v1.1h-1.1zM388.7 378.9h1.1v1.1h-1.1zM389.3 383.0h1.1v1.1h-1.1zM389.1 384.2h1.1v1.1h-1.1zM389.2 385.9h1.1v1.1h-1.1zM389.2 388.0h1.1v1.1h-1.1zM388.9 390.1h1.1v1.1h-1.1zM389.3 391.1h1.1v1.1h-1.1zM388.7 391.9h1.1v1.1h-1.1zM388.7 393.2h1.1v1.1h-1.1zM389.1 395.0h1.1v1.1h-1.1zM389.1 396.9h1.1v1.1h-1.1zM389.2 398.0h1.1v1.1h-1.1zM388.8 398.8h1.1v1.1h-1.1zM389.0 400.9h1.1v1.1h-1.1zM388.8 401.8h1.1v1.1h-1.1zM388.8 403.3h1.1v1.1h-1.1zM388.7 404.1h1.1v1.1h-1.1zM389.3 405.0h1.1v1.1h-1.1zM389.3 407.3h1.1v1.1h-1.1zM389.3 407.7h1.1v1.1h-1.1zM389.0 409.0h1.1v1.1h-1.1zM388.7 409.9h1.1v1.1h-1.1zM389.0 413.0h1.1v1.1h-1.1zM389.0 416.1h1.1v1.1h-1.1zM389.1 419.7h1.1v1.1h-1.1zM388.9 421.8h1.1v1.1h-1.1zM389.1 424.8h1.1v1.1h-1.1zM389.0 430.8h1.1v1.1h-1.1zM389.3 435.3h1.1v1.1h-1.1zM388.9 436.2h1.1v1.1h-1.1zM390.0 371.2h1.1v1.1h-1.1zM389.7 376.3h1.1v1.1h-1.1zM390.3 379.2h1.1v1.1h-1.1zM389.7 380.9h1.1v1.1h-1.1zM389.9 382.3h1.1v1.1h-1.1zM390.1 383.3h1.1v1.1h-1.1zM389.8 389.1h1.1v1.1h-1.1zM390.0 390.1h1.1v1.1h-1.1zM389.7 391.3h1.1v1.1h-1.1zM389.8 392.2h1.1v1.1h-1.1zM389.9 393.3h1.1v1.1h-1.1zM389.7 394.0h1.1v1.1h-1.1zM389.7 395.0h1.1v1.1h-1.1zM390.0 397.9h1.1v1.1h-1.1zM389.8 399.3h1.1v1.1h-1.1zM390.2 400.0h1.1v1.1h-1.1zM389.8 401.7h1.1v1.1h-1.1zM390.0 403.0h1.1v1.1h-1.1zM389.8 404.2h1.1v1.1h-1.1zM390.2 405.1h1.1v1.1h-1.1zM389.8 406.2h1.1v1.1h-1.1zM390.1 407.7h1.1v1.1h-1.1zM389.9 411.3h1.1v1.1h-1.1zM389.9 411.9h1.1v1.1h-1.1zM390.1 413.0h1.1v1.1h-1.1zM390.1 425.7h1.1v1.1h-1.1zM389.9 427.7h1.1v1.1h-1.1zM390.8 372.1h1.1v1.1h-1.1zM391.3 380.1h1.1v1.1h-1.1zM391.0 380.7h1.1v1.1h-1.1zM391.3 381.9h1.1v1.1h-1.1zM391.0 383.0h1.1v1.1h-1.1zM390.9 384.3h1.1v1.1h-1.1zM391.1 385.1h1.1v1.1h-1.1zM390.7 390.9h1.1v1.1h-1.1zM391.3 391.7h1.1v1.1h-1.1zM391.1 394.0h1.1v1.1h-1.1zM390.8 397.1h1.1v1.1h-1.1zM390.7 398.0h1.1v1.1h-1.1zM390.7 398.9h1.1v1.1h-1.1zM391.0 400.9h1.1v1.1h-1.1zM391.0 402.0h1.1v1.1h-1.1zM390.7 403.2h1.1v1.1h-1.1zM391.2 404.1h1.1v1.1h-1.1zM391.0 404.9h1.1v1.1h-1.1zM390.8 406.3h1.1v1.1h-1.1zM391.2 407.8h1.1v1.1h-1.1zM391.3 409.1h1.1v1.1h-1.1zM390.8 414.2h1.1v1.1h-1.1zM390.8 417.0h1.1v1.1h-1.1zM390.7 417.7h1.1v1.1h-1.1zM390.8 428.1h1.1v1.1h-1.1zM390.7 432.1h1.1v1.1h-1.1zM392.1 372.7h1.1v1.1h-1.1zM391.9 378.3h1.1v1.1h-1.1zM392.0 380.0h1.1v1.1h-1.1zM391.9 382.0h1.1v1.1h-1.1zM391.8 385.2h1.1v1.1h-1.1zM391.8 386.9h1.1v1.1h-1.1zM391.8 388.2h1.1v1.1h-1.1zM391.8 389.3h1.1v1.1h-1.1zM392.2 390.2h1.1v1.1h-1.1zM391.7 391.1h1.1v1.1h-1.1zM392.0 395.8h1.1v1.1h-1.1zM392.2 402.1h1.1v1.1h-1.1zM391.7 404.3h1.1v1.1h-1.1zM391.9 404.7h1.1v1.1h-1.1zM391.7 408.0h1.1v1.1h-1.1zM391.9 412.0h1.1v1.1h-1.1zM392.2 418.9h1.1v1.1h-1.1zM392.3 426.1h1.1v1.1h-1.1zM392.0 428.0h1.1v1.1h-1.1zM391.7 429.0h1.1v1.1h-1.1zM393.0 360.8h1.1v1.1h-1.1zM393.0 376.8h1.1v1.1h-1.1zM392.7 378.2h1.1v1.1h-1.1zM393.2 380.1h1.1v1.1h-1.1zM393.1 386.9h1.1v1.1h-1.1zM393.0 389.9h1.1v1.1h-1.1zM393.1 395.9h1.1v1.1h-1.1zM392.8 397.3h1.1v1.1h-1.1zM393.3 397.8h1.1v1.1h-1.1zM392.7 398.7h1.1v1.1h-1.1zM393.0 400.2h1.1v1.1h-1.1zM393.2 400.8h1.1v1.1h-1.1zM393.2 406.2h1.1v1.1h-1.1zM392.8 407.2h1.1v1.1h-1.1zM393.1 410.8h1.1v1.1h-1.1zM392.7 416.2h1.1v1.1h-1.1zM393.0 418.9h1.1v1.1h-1.1zM392.9 423.1h1.1v1.1h-1.1zM394.0 369.1h1.1v1.1h-1.1zM394.2 370.1h1.1v1.1h-1.1zM394.2 373.7h1.1v1.1h-1.1zM394.3 375.3h1.1v1.1h-1.1zM393.8 375.9h1.1v1.1h-1.1zM393.8 378.2h1.1v1.1h-1.1zM394.3 379.1h1.1v1.1h-1.1zM394.0 380.3h1.1v1.1h-1.1zM394.0 389.2h1.1v1.1h-1.1zM394.0 398.3h1.1v1.1h-1.1zM393.9 398.9h1.1v1.1h-1.1zM394.0 403.7h1.1v1.1h-1.1zM394.0 420.8h1.1v1.1h-1.1zM394.2 422.7h1.1v1.1h-1.1zM395.2 332.0h1.1v1.1h-1.1zM395.0 373.0h1.1v1.1h-1.1zM394.7 377.1h1.1v1.1h-1.1zM395.3 387.2h1.1v1.1h-1.1zM394.9 388.1h1.1v1.1h-1.1zM394.9 390.0h1.1v1.1h-1.1zM395.2 393.2h1.1v1.1h-1.1zM394.9 394.7h1.1v1.1h-1.1zM395.0 397.8h1.1v1.1h-1.1zM394.8 408.3h1.1v1.1h-1.1zM394.9 410.7h1.1v1.1h-1.1zM395.3 428.3h1.1v1.1h-1.1zM395.0 429.7h1.1v1.1h-1.1zM396.1 373.8h1.1v1.1h-1.1zM396.0 376.9h1.1v1.1h-1.1zM395.8 377.8h1.1v1.1h-1.1zM396.3 378.8h1.1v1.1h-1.1zM396.0 383.2h1.1v1.1h-1.1zM396.3 384.2h1.1v1.1h-1.1zM396.1 392.1h1.1v1.1h-1.1zM396.1 393.2h1.1v1.1h-1.1zM395.8 394.9h1.1v1.1h-1.1zM395.9 399.1h1.1v1.1h-1.1zM395.8 405.2h1.1v1.1h-1.1zM395.7 412.3h1.1v1.1h-1.1zM397.2 370.1h1.1v1.1h-1.1zM396.8 373.1h1.1v1.1h-1.1zM397.3 374.0h1.1v1.1h-1.1zM396.8 375.9h1.1v1.1h-1.1zM396.8 378.2h1.1v1.1h-1.1zM397.2 378.7h1.1v1.1h-1.1zM396.9 380.8h1.1v1.1h-1.1zM396.9 383.9h1.1v1.1h-1.1zM397.2 391.8h1.1v1.1h-1.1zM397.2 394.0h1.1v1.1h-1.1zM396.9 394.8h1.1v1.1h-1.1zM397.3 399.8h1.1v1.1h-1.1zM396.8 407.2h1.1v1.1h-1.1zM397.0 409.0h1.1v1.1h-1.1zM397.1 412.0h1.1v1.1h-1.1zM397.1 420.2h1.1v1.1h-1.1zM398.3 368.9h1.1v1.1h-1.1zM397.8 369.9h1.1v1.1h-1.1zM397.7 372.9h1.1v1.1h-1.1zM397.7 377.9h1.1v1.1h-1.1zM397.9 395.0h1.1v1.1h-1.1zM398.1 397.7h1.1v1.1h-1.1zM398.3 409.9h1.1v1.1h-1.1zM398.0 418.8h1.1v1.1h-1.1zM397.8 433.1h1.1v1.1h-1.1zM399.3 365.7h1.1v1.1h-1.1zM398.8 371.2h1.1v1.1h-1.1zM398.8 373.3h1.1v1.1h-1.1zM398.9 373.8h1.1v1.1h-1.1zM399.2 374.7h1.1v1.1h-1.1zM398.8 375.7h1.1v1.1h-1.1zM398.8 376.8h1.1v1.1h-1.1zM399.0 380.9h1.1v1.1h-1.1zM399.2 396.8h1.1v1.1h-1.1zM398.8 401.3h1.1v1.1h-1.1zM398.9 403.0h1.1v1.1h-1.1zM399.1 405.7h1.1v1.1h-1.1zM399.2 406.9h1.1v1.1h-1.1zM398.9 412.8h1.1v1.1h-1.1zM399.2 418.2h1.1v1.1h-1.1zM400.0 371.9h1.1v1.1h-1.1zM400.2 372.7h1.1v1.1h-1.1zM399.9 376.1h1.1v1.1h-1.1zM400.1 377.1h1.1v1.1h-1.1zM400.1 384.0h1.1v1.1h-1.1zM399.8 414.1h1.1v1.1h-1.1zM400.9 368.2h1.1v1.1h-1.1zM401.1 370.8h1.1v1.1h-1.1zM401.1 372.7h1.1v1.1h-1.1zM400.9 375.2h1.1v1.1h-1.1zM400.9 379.2h1.1v1.1h-1.1zM400.8 385.3h1.1v1.1h-1.1zM400.8 385.7h1.1v1.1h-1.1zM400.9 387.2h1.1v1.1h-1.1zM401.3 394.7h1.1v1.1h-1.1zM400.8 396.0h1.1v1.1h-1.1zM400.7 401.7h1.1v1.1h-1.1zM401.0 417.7h1.1v1.1h-1.1zM402.2 366.9h1.1v1.1h-1.1zM402.0 368.1h1.1v1.1h-1.1zM402.2 370.1h1.1v1.1h-1.1zM402.1 371.2h1.1v1.1h-1.1zM401.7 375.2h1.1v1.1h-1.1zM402.3 377.1h1.1v1.1h-1.1zM401.7 383.8h1.1v1.1h-1.1zM401.7 393.0h1.1v1.1h-1.1zM402.3 395.1h1.1v1.1h-1.1zM402.3 403.0h1.1v1.1h-1.1zM402.1 414.2h1.1v1.1h-1.1zM402.9 365.8h1.1v1.1h-1.1zM403.1 367.8h1.1v1.1h-1.1zM403.0 368.7h1.1v1.1h-1.1zM402.9 371.8h1.1v1.1h-1.1zM402.9 394.2h1.1v1.1h-1.1zM402.8 395.1h1.1v1.1h-1.1zM402.7 398.3h1.1v1.1h-1.1zM402.7 400.8h1.1v1.1h-1.1zM402.8 414.3h1.1v1.1h-1.1zM403.7 366.1h1.1v1.1h-1.1zM403.8 367.8h1.1v1.1h-1.1zM403.9 368.7h1.1v1.1h-1.1zM403.8 370.7h1.1v1.1h-1.1zM404.2 371.9h1.1v1.1h-1.1zM404.2 386.2h1.1v1.1h-1.1zM404.0 396.9h1.1v1.1h-1.1zM404.1 433.9h1.1v1.1h-1.1zM405.1 371.8h1.1v1.1h-1.1zM404.7 374.1h1.1v1.1h-1.1zM404.7 382.2h1.1v1.1h-1.1zM405.0 397.9h1.1v1.1h-1.1zM406.1 373.2h1.1v1.1h-1.1zM405.9 395.1h1.1v1.1h-1.1zM406.1 401.8h1.1v1.1h-1.1zM405.8 402.9h1.1v1.1h-1.1zM405.8 406.9h1.1v1.1h-1.1zM406.3 417.1h1.1v1.1h-1.1zM407.2 366.0h1.1v1.1h-1.1zM407.3 396.8h1.1v1.1h-1.1zM406.8 402.7h1.1v1.1h-1.1zM406.8 412.8h1.1v1.1h-1.1zM407.3 421.0h1.1v1.1h-1.1zM408.0 364.9h1.1v1.1h-1.1zM408.3 368.0h1.1v1.1h-1.1zM408.1 369.9h1.1v1.1h-1.1zM408.1 371.2h1.1v1.1h-1.1zM408.1 414.2h1.1v1.1h-1.1zM409.3 364.2h1.1v1.1h-1.1zM409.2 366.8h1.1v1.1h-1.1zM409.1 374.2h1.1v1.1h-1.1zM408.9 378.7h1.1v1.1h-1.1zM409.0 392.9h1.1v1.1h-1.1zM408.8 397.0h1.1v1.1h-1.1zM409.2 417.2h1.1v1.1h-1.1zM408.7 434.7h1.1v1.1h-1.1zM409.7 361.9h1.1v1.1h-1.1zM409.7 365.2h1.1v1.1h-1.1zM410.1 368.2h1.1v1.1h-1.1zM409.9 372.2h1.1v1.1h-1.1zM411.1 362.2h1.1v1.1h-1.1zM411.2 365.3h1.1v1.1h-1.1zM411.2 386.0h1.1v1.1h-1.1zM411.0 431.0h1.1v1.1h-1.1zM411.7 367.3h1.1v1.1h-1.1zM412.1 373.8h1.1v1.1h-1.1zM413.3 362.8h1.1v1.1h-1.1zM412.9 365.1h1.1v1.1h-1.1zM413.8 357.0h1.1v1.1h-1.1zM414.8 356.8h1.1v1.1h-1.1zM414.8 358.0h1.1v1.1h-1.1zM414.9 360.7h1.1v1.1h-1.1zM415.1 370.1h1.1v1.1h-1.1zM415.9 362.8h1.1v1.1h-1.1zM417.0 360.3h1.1v1.1h-1.1zM418.2 362.2h1.1v1.1h-1.1zM418.1 365.8h1.1v1.1h-1.1zM422.9 354.7h1.1v1.1h-1.1zM423.3 362.8h1.1v1.1h-1.1zM422.7 384.9h1.1v1.1h-1.1zM423.8 356.0h1.1v1.1h-1.1zM429.1 360.3h1.1v1.1h-1.1zM430.3 360.1h1.1v1.1h-1.1zM429.7 375.8h1.1v1.1h-1.1zM432.3 375.0h1.1v1.1h-1.1zM433.9 374.2h1.1v1.1h-1.1zM435.8 371.8h1.1v1.1h-1.1zM438.0 371.1h1.1v1.1h-1.1zM440.2 369.3h1.1v1.1h-1.1zM442.2 365.9h1.1v1.1h-1.1zM443.2 347.9h1.1v1.1h-1.1zM443.3 364.7h1.1v1.1h-1.1zM443.2 366.7h1.1v1.1h-1.1zM444.0 362.9h1.1v1.1h-1.1zM443.8 364.0h1.1v1.1h-1.1zM447.0 343.0h1.1v1.1h-1.1zM447.0 358.8h1.1v1.1h-1.1zM447.3 361.3h1.1v1.1h-1.1zM449.2 357.8h1.1v1.1h-1.1zM449.7 356.9h1.1v1.1h-1.1zM450.9 355.3h1.1v1.1h-1.1zM451.2 356.9h1.1v1.1h-1.1zM451.7 331.7h1.1v1.1h-1.1zM451.9 356.2h1.1v1.1h-1.1zM451.9 360.7h1.1v1.1h-1.1zM452.7 338.3h1.1v1.1h-1.1zM452.7 360.2h1.1v1.1h-1.1zM455.1 350.7h1.1v1.1h-1.1zM454.8 358.1h1.1v1.1h-1.1zM454.9 360.2h1.1v1.1h-1.1zM456.0 352.1h1.1v1.1h-1.1zM456.9 355.9h1.1v1.1h-1.1zM458.0 350.8h1.1v1.1h-1.1zM459.8 352.3h1.1v1.1h-1.1zM461.0 348.3h1.1v1.1h-1.1zM461.3 351.0h1.1v1.1h-1.1zM461.8 351.3h1.1v1.1h-1.1zM468.8 341.8h1.1v1.1h-1.1z" fill="#1b1b1b"/>
<path d="M331.40 346.80H490.50" stroke="#e3848e" stroke-width="1.7" fill="none"/>
<path d="M418.40 292.40V439.70" stroke="#d9505f" stroke-width="1.25" fill="none"/>
<path d="M326.90 439.50H331.40M331.50 439.70V444.00M326.90 432.50H331.40M338.50 439.70V444.00M326.90 428.50H331.40M343.50 439.70V444.00M326.90 426.50H331.40M346.50 439.70V444.00M326.90 423.50H331.40M348.50 439.70V444.00M326.90 422.50H331.40M350.50 439.70V444.00M326.90 420.50H331.40M352.50 439.70V444.00M326.90 419.50H331.40M353.50 439.70V444.00M326.90 418.50H331.40M354.50 439.70V444.00M326.90 417.50H331.40M356.50 439.70V444.00M326.90 409.50H331.40M363.50 439.70V444.00M326.90 405.50H331.40M368.50 439.70V444.00M326.90 402.50H331.40M371.50 439.70V444.00M326.90 400.50H331.40M374.50 439.70V444.00M326.90 398.50H331.40M376.50 439.70V444.00M326.90 396.50H331.40M377.50 439.70V444.00M326.90 395.50H331.40M379.50 439.70V444.00M326.90 394.50H331.40M380.50 439.70V444.00M326.90 393.50H331.40M381.50 439.70V444.00M326.90 386.50H331.40M389.50 439.70V444.00M326.90 382.50H331.40M393.50 439.70V444.00M326.90 379.50H331.40M397.50 439.70V444.00M326.90 376.50H331.40M399.50 439.70V444.00M326.90 375.50H331.40M401.50 439.70V444.00M326.90 373.50H331.40M403.50 439.70V444.00M326.90 372.50H331.40M404.50 439.70V444.00M326.90 370.50H331.40M406.50 439.70V444.00M326.90 369.50H331.40M407.50 439.70V444.00M326.90 362.50H331.40M415.50 439.70V444.00M326.90 358.50H331.40M419.50 439.70V444.00M326.90 355.50H331.40M423.50 439.70V444.00M326.90 353.50H331.40M425.50 439.70V444.00M326.90 351.50H331.40M427.50 439.70V444.00M326.90 350.50H331.40M429.50 439.70V444.00M326.90 348.50H331.40M431.50 439.70V444.00M326.90 347.50H331.40M432.50 439.70V444.00M326.90 346.50H331.40M433.50 439.70V444.00M326.90 339.50H331.40M441.50 439.70V444.00M326.90 334.50H331.40M445.50 439.70V444.00M326.90 331.50H331.40M448.50 439.70V444.00M326.90 329.50H331.40M451.50 439.70V444.00M326.90 327.50H331.40M453.50 439.70V444.00M326.90 325.50H331.40M455.50 439.70V444.00M326.90 324.50H331.40M456.50 439.70V444.00M326.90 322.50H331.40M457.50 439.70V444.00M326.90 321.50H331.40M458.50 439.70V444.00M326.90 314.50H331.40M466.50 439.70V444.00M326.90 310.50H331.40M471.50 439.70V444.00M326.90 308.50H331.40M474.50 439.70V444.00M326.90 305.50H331.40M476.50 439.70V444.00M326.90 304.50H331.40M478.50 439.70V444.00M326.90 302.50H331.40M480.50 439.70V444.00M326.90 301.50H331.40M482.50 439.70V444.00M326.90 300.50H331.40M483.50 439.70V444.00M326.90 299.50H331.40M484.50 439.70V444.00M326.90 292.40H331.40M490.50 439.70V444.00" stroke="#111" stroke-width="1" fill="none"/>
<rect x="331.40" y="292.40" width="159.10" height="147.30" fill="none" stroke="#000" stroke-width="1.4"/>
<text x="268.10" y="268.75" font-size="15.4" fill="#1a1a1b" textLength="10.10" lengthAdjust="spacingAndGlyphs">D</text>
<rect x="331.80" y="274.40" width="36.9" height="12.7" rx="6.35" fill="#adabab"/>
<text x="338.50" y="284.40" font-size="10.4" fill="#1e1e1e" textLength="24.00" lengthAdjust="spacingAndGlyphs" class="k">GATE</text>
<text x="374.75" y="284.20" font-size="10.2" fill="#1e1e1e" textLength="52.40" lengthAdjust="spacingAndGlyphs" class="k">[No Gating]</text>
<text x="318.40" y="443.20" font-size="10.6" fill="#1e1e1e" text-anchor="end" textLength="11.20" lengthAdjust="spacingAndGlyphs" class="k">10</text>
<text x="317.70" y="438.70" font-size="9.8" fill="#1e1e1e" textLength="5.00" lengthAdjust="spacingAndGlyphs" class="k">1</text>
<text x="318.40" y="421.20" font-size="10.6" fill="#1e1e1e" text-anchor="end" textLength="11.20" lengthAdjust="spacingAndGlyphs" class="k">10</text>
<text x="317.70" y="416.70" font-size="9.8" fill="#1e1e1e" textLength="5.00" lengthAdjust="spacingAndGlyphs" class="k">2</text>
<text x="318.40" y="397.30" font-size="10.6" fill="#1e1e1e" text-anchor="end" textLength="11.20" lengthAdjust="spacingAndGlyphs" class="k">10</text>
<text x="317.70" y="392.80" font-size="9.8" fill="#1e1e1e" textLength="5.00" lengthAdjust="spacingAndGlyphs" class="k">3</text>
<text x="318.40" y="373.80" font-size="10.6" fill="#1e1e1e" text-anchor="end" textLength="11.20" lengthAdjust="spacingAndGlyphs" class="k">10</text>
<text x="317.70" y="369.30" font-size="9.8" fill="#1e1e1e" textLength="5.00" lengthAdjust="spacingAndGlyphs" class="k">4</text>
<text x="318.40" y="350.60" font-size="10.6" fill="#1e1e1e" text-anchor="end" textLength="11.20" lengthAdjust="spacingAndGlyphs" class="k">10</text>
<text x="317.70" y="346.10" font-size="9.8" fill="#1e1e1e" textLength="5.00" lengthAdjust="spacingAndGlyphs" class="k">5</text>
<text x="318.40" y="326.80" font-size="10.6" fill="#1e1e1e" text-anchor="end" textLength="11.20" lengthAdjust="spacingAndGlyphs" class="k">10</text>
<text x="317.70" y="322.30" font-size="9.8" fill="#1e1e1e" textLength="5.00" lengthAdjust="spacingAndGlyphs" class="k">6</text>
<text x="312.40" y="295.70" font-size="10.6" fill="#1e1e1e" text-anchor="end" textLength="11.60" lengthAdjust="spacingAndGlyphs" class="k">10</text>
<text x="311.70" y="292.00" font-size="9.8" fill="#1e1e1e" textLength="11.00" lengthAdjust="spacingAndGlyphs" class="k">7.2</text>
<text x="334.91" y="458.00" font-size="10.6" fill="#1e1e1e" text-anchor="end" textLength="11.40" lengthAdjust="spacingAndGlyphs" class="k">10</text>
<text x="334.91" y="454.10" font-size="9.8" fill="#1e1e1e" textLength="5.00" lengthAdjust="spacingAndGlyphs" class="k">1</text>
<text x="358.12" y="458.00" font-size="10.6" fill="#1e1e1e" text-anchor="end" textLength="11.40" lengthAdjust="spacingAndGlyphs" class="k">10</text>
<text x="358.12" y="454.10" font-size="9.8" fill="#1e1e1e" textLength="5.00" lengthAdjust="spacingAndGlyphs" class="k">2</text>
<text x="383.83" y="458.00" font-size="10.6" fill="#1e1e1e" text-anchor="end" textLength="11.40" lengthAdjust="spacingAndGlyphs" class="k">10</text>
<text x="383.83" y="454.10" font-size="9.8" fill="#1e1e1e" textLength="5.00" lengthAdjust="spacingAndGlyphs" class="k">3</text>
<text x="409.94" y="458.00" font-size="10.6" fill="#1e1e1e" text-anchor="end" textLength="11.40" lengthAdjust="spacingAndGlyphs" class="k">10</text>
<text x="409.94" y="454.10" font-size="9.8" fill="#1e1e1e" textLength="5.00" lengthAdjust="spacingAndGlyphs" class="k">4</text>
<text x="434.65" y="458.00" font-size="10.6" fill="#1e1e1e" text-anchor="end" textLength="11.40" lengthAdjust="spacingAndGlyphs" class="k">10</text>
<text x="434.65" y="454.10" font-size="9.8" fill="#1e1e1e" textLength="5.00" lengthAdjust="spacingAndGlyphs" class="k">5</text>
<text x="460.16" y="458.00" font-size="10.6" fill="#1e1e1e" text-anchor="end" textLength="11.40" lengthAdjust="spacingAndGlyphs" class="k">10</text>
<text x="460.16" y="454.10" font-size="9.8" fill="#1e1e1e" textLength="5.00" lengthAdjust="spacingAndGlyphs" class="k">6</text>
<text x="491.20" y="458.00" font-size="10.6" fill="#1e1e1e" text-anchor="end" textLength="11.20" lengthAdjust="spacingAndGlyphs" class="k">10</text>
<text x="491.30" y="454.40" font-size="9.8" fill="#1e1e1e" textLength="10.60" lengthAdjust="spacingAndGlyphs" class="k">7.2</text>
<text x="0" y="0" font-size="13" fill="#1e1e1e" text-anchor="middle" textLength="31.2" lengthAdjust="spacingAndGlyphs" class="k" transform="translate(290.50,366.00) rotate(-90)">FL2-A</text>
<text x="410.85" y="477.00" font-size="13" fill="#1e1e1e" text-anchor="middle" textLength="31.20" lengthAdjust="spacingAndGlyphs" class="k">FL1-A</text>
<svg x="331.40" y="292.40" width="159.10" height="147.30" overflow="hidden">
<text x="0.90" y="9.40" font-size="11" fill="#d9505f" textLength="32.90" lengthAdjust="spacingAndGlyphs">Q4-UL</text>
<text x="1.00" y="18.60" font-size="10.2" fill="#d9505f" textLength="24.20" lengthAdjust="spacingAndGlyphs">0.0%</text>
<text x="158.80" y="9.30" font-size="11" fill="#d9505f" text-anchor="end" textLength="35.00" lengthAdjust="spacingAndGlyphs">Q4-UR</text>
<text x="157.60" y="19.80" font-size="10.9" fill="#e2262e" font-weight="bold" text-anchor="end" textLength="30.20" lengthAdjust="spacingAndGlyphs">0.02%</text>
<text x="126.10" y="138.20" font-size="11" fill="#d9505f" textLength="32.40" lengthAdjust="spacingAndGlyphs">Q4-LR</text>
<text x="126.10" y="147.50" font-size="10.2" fill="#d9505f" textLength="24.70" lengthAdjust="spacingAndGlyphs">0.9%</text>
<text x="0.70" y="138.50" font-size="11" fill="#e0404f" textLength="31.10" lengthAdjust="spacingAndGlyphs" stroke="#ffffff" stroke-opacity="0.3" stroke-width="1" paint-order="stroke">Q4-LL</text>
<text x="0.70" y="147.90" font-size="10.2" fill="#e0404f" textLength="30.00" lengthAdjust="spacingAndGlyphs" stroke="#ffffff" stroke-opacity="0.3" stroke-width="1" paint-order="stroke">99.1%</text>
</svg>
<text x="434.40" y="404.10" font-size="10.0" fill="#1e1e1e" textLength="40.00" lengthAdjust="spacingAndGlyphs" class="k">GloCD41</text>
<text x="447.30" y="416.30" font-size="10.0" fill="#1e1e1e" textLength="15.80" lengthAdjust="spacingAndGlyphs" class="k">fish</text>
<rect x="0" y="0" width="520" height="1" fill="#6e6e6e"/><rect x="0" y="1" width="520" height="1" fill="#333"/>
<rect x="0" y="0" width="1" height="490" fill="#6e6e6e"/><rect x="1" y="1" width="1" height="488" fill="#333"/>
<rect x="518" y="0" width="1" height="490" fill="#222"/><rect x="519" y="0" width="1" height="490" fill="#777"/>
<rect x="0" y="488" width="520" height="1" fill="#1a1a1a"/><rect x="0" y="489" width="520" height="1" fill="#111"/>
</svg></body></html>
